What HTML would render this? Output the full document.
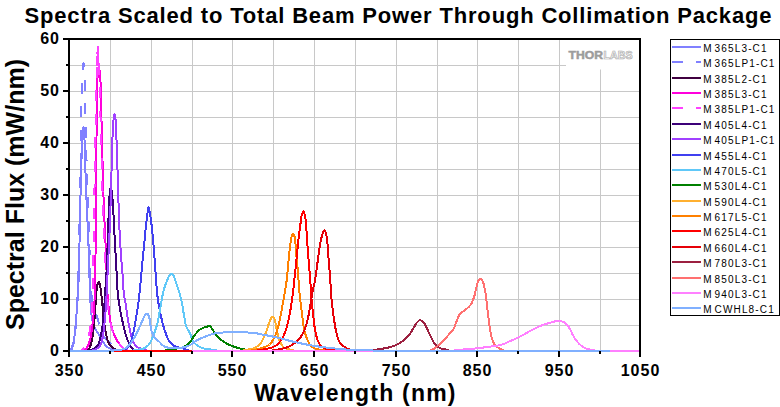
<!DOCTYPE html>
<html><head><meta charset="utf-8"><title>Spectra Scaled to Total Beam Power Through Collimation Package</title>
<style>html,body{margin:0;padding:0;background:#fff;}svg{display:block;}text{font-family:"Liberation Sans",sans-serif;font-weight:bold;fill:#000;}.lg text{font-weight:normal;font-size:10px;}</style></head><body>
<svg width="780" height="407" viewBox="0 0 780 407">
<rect x="0" y="0" width="780" height="407" fill="#fff"/>
<g stroke="#c8c8c8" stroke-width="1" shape-rendering="crispEdges">
<line x1="110.5" y1="39.0" x2="110.5" y2="351.0"/>
<line x1="151.5" y1="39.0" x2="151.5" y2="351.0"/>
<line x1="192.5" y1="39.0" x2="192.5" y2="351.0"/>
<line x1="232.5" y1="39.0" x2="232.5" y2="351.0"/>
<line x1="273.5" y1="39.0" x2="273.5" y2="351.0"/>
<line x1="314.5" y1="39.0" x2="314.5" y2="351.0"/>
<line x1="355.5" y1="39.0" x2="355.5" y2="351.0"/>
<line x1="396.5" y1="39.0" x2="396.5" y2="351.0"/>
<line x1="437.5" y1="39.0" x2="437.5" y2="351.0"/>
<line x1="477.5" y1="39.0" x2="477.5" y2="351.0"/>
<line x1="518.5" y1="39.0" x2="518.5" y2="351.0"/>
<line x1="559.5" y1="39.0" x2="559.5" y2="351.0"/>
<line x1="600.5" y1="39.0" x2="600.5" y2="351.0"/>
<line x1="69.0" y1="325.5" x2="640.0" y2="325.5"/>
<line x1="69.0" y1="299.5" x2="640.0" y2="299.5"/>
<line x1="69.0" y1="273.5" x2="640.0" y2="273.5"/>
<line x1="69.0" y1="247.5" x2="640.0" y2="247.5"/>
<line x1="69.0" y1="221.5" x2="640.0" y2="221.5"/>
<line x1="69.0" y1="195.5" x2="640.0" y2="195.5"/>
<line x1="69.0" y1="169.5" x2="640.0" y2="169.5"/>
<line x1="69.0" y1="143.5" x2="640.0" y2="143.5"/>
<line x1="69.0" y1="117.5" x2="640.0" y2="117.5"/>
<line x1="69.0" y1="91.5" x2="640.0" y2="91.5"/>
<line x1="69.0" y1="65.5" x2="640.0" y2="65.5"/>
</g>
<rect x="566" y="40" width="73" height="29.5" fill="#fff"/>
<g>
<text x="568.5" y="58.5" font-size="11.3" style="fill:#9c9c9c;stroke:#9c9c9c;stroke-width:0.5" textLength="34.5" lengthAdjust="spacingAndGlyphs">THOR</text>
<text x="603.5" y="58.5" font-size="11.3" style="fill:#fff;stroke:#aaa;stroke-width:0.7" textLength="29" lengthAdjust="spacingAndGlyphs">LABS</text>
</g>
<rect x="69.0" y="39.0" width="571.0" height="312.0" stroke="#000" stroke-width="2" fill="none" shape-rendering="crispEdges"/>
<clipPath id="pc"><rect x="70" y="40" width="569" height="313"/></clipPath>
<g clip-path="url(#pc)" fill="none" stroke-width="2" stroke-linejoin="round" shape-rendering="crispEdges">
<polyline stroke="#8080ff" points="69.0,351.0 69.5,350.9 70.0,350.5 70.5,350.0 71.0,349.3 71.5,348.4 72.0,347.1 72.5,345.6 73.0,343.8 73.5,341.8 74.0,339.5 74.5,336.5 75.0,331.9 75.5,326.3 76.0,320.2 76.5,314.0 77.0,308.1 77.5,301.7 78.0,293.8 78.5,282.3 79.0,265.0 79.5,243.6 80.0,219.1 80.5,195.8 81.0,176.4 81.5,160.0 82.0,146.2 82.5,136.7 83.0,129.4 83.5,127.2 84.0,131.7 84.5,140.0 85.0,155.5 85.5,173.0 86.0,187.1 86.5,200.0 87.0,211.3 87.5,221.6 88.0,232.5 88.5,245.8 89.0,262.5 89.5,277.7 90.0,290.0 90.5,302.8 91.0,309.8 91.5,314.6 92.0,318.0 92.5,320.6 93.0,322.9 93.5,324.7 94.0,326.3 94.5,327.5 95.0,328.6 95.5,329.5 96.0,330.3 96.5,331.0 97.0,331.7 97.5,332.4 98.0,333.2 98.5,334.0 99.0,334.8 99.5,335.7 100.0,336.6 100.5,337.6 101.0,338.5 101.5,339.4 102.0,340.3 102.5,341.1 103.0,342.0 103.5,342.7 104.0,343.4 104.5,344.0 105.0,344.6 105.5,345.2 106.0,345.7 106.5,346.2 107.0,346.7 107.5,347.1 108.0,347.4 108.5,347.7 109.0,348.0 109.5,348.2 110.0,348.5 110.5,348.7 111.0,348.9 111.5,349.1 112.0,349.2 112.5,349.4 113.0,349.6 113.5,349.7 114.0,349.8 114.5,350.0 115.0,350.1 115.5,350.2 116.0,350.4 116.5,350.5 117.0,350.6 117.5,350.7 118.0,350.8 118.5,350.9 119.0,350.9 119.5,351.0 120.0,351.0 120.5,351.0 121.0,351.0 121.5,351.0 122.0,351.0 122.5,351.0 123.0,351.0 123.5,351.0 124.0,351.0 124.5,351.0 125.0,351.0 125.5,351.0 126.0,351.0 126.5,351.0 127.0,351.0 127.5,351.0 128.0,351.0 128.5,351.0 129.0,351.0 129.5,351.0 130.0,351.0 130.5,351.0 131.0,351.0 131.5,351.0 132.0,351.0 132.5,351.0 133.0,351.0 133.5,351.0 134.0,351.0 134.5,351.0 135.0,351.0 135.5,351.0 136.0,351.0 136.5,351.0 137.0,351.0 137.5,351.0 138.0,351.0 138.5,351.0 139.0,351.0 139.5,351.0 140.0,351.0 140.5,351.0 141.0,351.0 141.5,351.0 142.0,351.0 142.5,351.0 143.0,351.0 143.5,351.0 144.0,351.0 144.5,351.0 145.0,351.0 145.5,351.0 146.0,351.0 146.5,351.0 147.0,351.0 147.5,351.0 148.0,351.0 148.5,351.0 149.0,351.0 149.5,351.0 150.0,351.0 150.5,351.0 151.0,351.0 151.5,351.0 152.0,351.0 152.5,351.0 153.0,351.0 153.5,351.0 154.0,351.0 154.5,351.0 155.0,351.0 155.5,351.0 156.0,351.0 156.5,351.0 157.0,351.0 157.5,351.0 158.0,351.0 158.5,351.0 159.0,351.0 159.5,351.0 160.0,351.0"/>
<polyline stroke="#8080ff" stroke-dasharray="11 12.5" stroke-dashoffset="22.5" points="69.0,351.0 69.5,350.9 70.0,350.7 70.5,350.4 71.0,350.0 71.5,349.4 72.0,348.5 72.5,347.2 73.0,345.6 73.5,343.7 74.0,341.5 74.5,339.0 75.0,335.0 75.5,329.0 76.0,321.7 76.5,314.0 77.0,306.3 77.5,297.0 78.0,283.9 78.5,263.4 79.0,241.0 79.5,217.0 80.0,192.0 80.5,165.7 81.0,133.4 81.5,105.4 82.0,87.1 82.5,75.3 83.0,67.8 83.5,63.2 84.0,66.7 84.5,76.6 85.0,94.3 85.5,119.5 86.0,140.9 86.5,160.0 87.0,176.8 87.5,192.1 88.0,207.0 88.5,221.7 89.0,236.0 89.5,250.0 90.0,265.2 90.5,280.0 91.0,290.0 91.5,295.3 92.0,299.4 92.5,302.5 93.0,305.0 93.5,307.1 94.0,308.8 94.5,310.4 95.0,311.8 95.5,313.0 96.0,314.3 96.5,315.6 97.0,317.0 97.5,318.5 98.0,320.2 98.5,321.9 99.0,323.6 99.5,325.3 100.0,327.0 100.5,328.6 101.0,330.2 101.5,331.6 102.0,332.9 102.5,334.0 103.0,335.0 103.5,335.8 104.0,336.6 104.5,337.2 105.0,337.9 105.5,338.5 106.0,339.0 106.5,339.6 107.0,340.1 107.5,340.5 108.0,341.0 108.5,341.5 109.0,341.9 109.5,342.3 110.0,342.7 110.5,343.1 111.0,343.5 111.5,343.9 112.0,344.2 112.5,344.6 113.0,344.9 113.5,345.2 114.0,345.5 114.5,345.8 115.0,346.0 115.5,346.3 116.0,346.5 116.5,346.8 117.0,347.0 117.5,347.2 118.0,347.4 118.5,347.6 119.0,347.8 119.5,348.0 120.0,348.2 120.5,348.4 121.0,348.6 121.5,348.8 122.0,349.0 122.5,349.2 123.0,349.4 123.5,349.6 124.0,349.9 124.5,350.1 125.0,350.3 125.5,350.5 126.0,350.6 126.5,350.8 127.0,350.9 127.5,351.0 128.0,351.0 128.5,351.0 129.0,351.0 129.5,351.0 130.0,351.0 130.5,351.0 131.0,351.0 131.5,351.0 132.0,351.0 132.5,351.0 133.0,351.0 133.5,351.0 134.0,351.0 134.5,351.0 135.0,351.0 135.5,351.0 136.0,351.0 136.5,351.0 137.0,351.0 137.5,351.0 138.0,351.0 138.5,351.0 139.0,351.0 139.5,351.0 140.0,351.0 140.5,351.0 141.0,351.0 141.5,351.0 142.0,351.0 142.5,351.0 143.0,351.0 143.5,351.0 144.0,351.0 144.5,351.0 145.0,351.0 145.5,351.0 146.0,351.0 146.5,351.0 147.0,351.0 147.5,351.0 148.0,351.0 148.5,351.0 149.0,351.0 149.5,351.0 150.0,351.0 150.5,351.0 151.0,351.0 151.5,351.0 152.0,351.0 152.5,351.0 153.0,351.0 153.5,351.0 154.0,351.0 154.5,351.0 155.0,351.0 155.5,351.0 156.0,351.0 156.5,351.0 157.0,351.0 157.5,351.0 158.0,351.0 158.5,351.0 159.0,351.0 159.5,351.0 160.0,351.0"/>
<polyline stroke="#400040" points="69.0,351.0 69.5,351.0 70.0,351.0 70.5,351.0 71.0,351.0 71.5,351.0 72.0,351.0 72.5,351.0 73.0,351.0 73.5,351.0 74.0,351.0 74.5,351.0 75.0,351.0 75.5,351.0 76.0,351.0 76.5,351.0 77.0,351.0 77.5,351.0 78.0,351.0 78.5,351.0 79.0,351.0 79.5,351.0 80.0,351.0 80.5,351.0 81.0,351.0 81.5,351.0 82.0,351.0 82.5,351.0 83.0,351.0 83.5,351.0 84.0,351.0 84.5,351.0 85.0,350.9 85.5,350.8 86.0,350.6 86.5,350.4 87.0,350.2 87.5,349.9 88.0,349.6 88.5,349.2 89.0,348.8 89.5,348.0 90.0,346.9 90.5,345.4 91.0,343.7 91.5,341.8 92.0,339.8 92.5,337.0 93.0,333.4 93.5,329.3 94.0,324.6 94.5,318.8 95.0,312.1 95.5,304.8 96.0,296.7 96.5,291.1 97.0,287.1 97.5,284.5 98.0,282.8 98.5,281.8 99.0,281.9 99.5,283.2 100.0,284.9 100.5,287.8 101.0,291.6 101.5,296.1 102.0,301.1 102.5,306.2 103.0,311.5 103.5,316.9 104.0,321.6 104.5,325.3 105.0,328.4 105.5,331.1 106.0,333.6 106.5,336.0 107.0,338.3 107.5,340.2 108.0,341.7 108.5,342.7 109.0,343.6 109.5,344.5 110.0,345.2 110.5,345.9 111.0,346.4 111.5,346.9 112.0,347.3 112.5,347.7 113.0,348.1 113.5,348.4 114.0,348.6 114.5,348.9 115.0,349.1 115.5,349.3 116.0,349.5 116.5,349.7 117.0,349.9 117.5,350.1 118.0,350.3 118.5,350.5 119.0,350.7 119.5,350.8 120.0,350.9 120.5,351.0 121.0,351.0 121.5,351.0 122.0,351.0 122.5,351.0 123.0,351.0 123.5,351.0 124.0,351.0 124.5,351.0 125.0,351.0 125.5,351.0 126.0,351.0 126.5,351.0 127.0,351.0 127.5,351.0 128.0,351.0 128.5,351.0 129.0,351.0 129.5,351.0 130.0,351.0 130.5,351.0 131.0,351.0 131.5,351.0 132.0,351.0 132.5,351.0 133.0,351.0 133.5,351.0 134.0,351.0 134.5,351.0 135.0,351.0 135.5,351.0 136.0,351.0 136.5,351.0 137.0,351.0 137.5,351.0 138.0,351.0 138.5,351.0 139.0,351.0 139.5,351.0 140.0,351.0 140.5,351.0 141.0,351.0 141.5,351.0 142.0,351.0 142.5,351.0 143.0,351.0 143.5,351.0 144.0,351.0 144.5,351.0 145.0,351.0 145.5,351.0 146.0,351.0 146.5,351.0 147.0,351.0 147.5,351.0 148.0,351.0 148.5,351.0 149.0,351.0 149.5,351.0 150.0,351.0 150.5,351.0 151.0,351.0 151.5,351.0 152.0,351.0 152.5,351.0 153.0,351.0 153.5,351.0 154.0,351.0 154.5,351.0 155.0,351.0 155.5,351.0 156.0,351.0 156.5,351.0 157.0,351.0 157.5,351.0 158.0,351.0 158.5,351.0 159.0,351.0 159.5,351.0 160.0,351.0 160.5,351.0 161.0,351.0 161.5,351.0 162.0,351.0 162.5,351.0 163.0,351.0 163.5,351.0 164.0,351.0 164.5,351.0 165.0,351.0 165.5,351.0 166.0,351.0 166.5,351.0 167.0,351.0 167.5,351.0 168.0,351.0 168.5,351.0 169.0,351.0 169.5,351.0 170.0,351.0"/>
<polyline stroke="#ff00dc" points="69.0,351.0 69.5,351.0 70.0,351.0 70.5,351.0 71.0,351.0 71.5,351.0 72.0,351.0 72.5,351.0 73.0,351.0 73.5,351.0 74.0,351.0 74.5,351.0 75.0,351.0 75.5,351.0 76.0,351.0 76.5,351.0 77.0,351.0 77.5,351.0 78.0,351.0 78.5,351.0 79.0,351.0 79.5,351.0 80.0,351.0 80.5,351.0 81.0,351.0 81.5,351.0 82.0,351.0 82.5,351.0 83.0,350.9 83.5,350.7 84.0,350.5 84.5,350.3 85.0,350.0 85.5,349.6 86.0,349.0 86.5,348.3 87.0,347.5 87.5,346.6 88.0,345.6 88.5,344.4 89.0,343.0 89.5,341.5 90.0,339.7 90.5,337.7 91.0,335.1 91.5,331.9 92.0,328.1 92.5,324.1 93.0,319.8 93.5,314.9 94.0,308.9 94.5,300.9 95.0,288.0 95.5,255.7 96.0,219.3 96.5,139.3 97.0,77.0 97.5,70.0 98.0,71.9 98.5,77.0 99.0,72.2 99.5,70.2 100.0,71.8 100.5,81.8 101.0,100.9 101.5,120.0 102.0,140.1 102.5,160.0 103.0,179.4 103.5,197.0 104.0,210.4 104.5,221.5 105.0,231.7 105.5,242.6 106.0,255.7 106.5,270.4 107.0,283.8 107.5,293.4 108.0,300.5 108.5,306.2 109.0,311.0 109.5,315.2 110.0,318.9 110.5,321.9 111.0,324.3 111.5,326.5 112.0,328.4 112.5,330.1 113.0,331.6 113.5,333.0 114.0,334.3 114.5,335.5 115.0,336.6 115.5,337.7 116.0,338.7 116.5,339.6 117.0,340.5 117.5,341.3 118.0,342.0 118.5,342.8 119.0,343.5 119.5,344.1 120.0,344.7 120.5,345.3 121.0,345.8 121.5,346.3 122.0,346.8 122.5,347.2 123.0,347.7 123.5,348.1 124.0,348.4 124.5,348.8 125.0,349.0 125.5,349.3 126.0,349.6 126.5,349.9 127.0,350.1 127.5,350.3 128.0,350.6 128.5,350.7 129.0,350.9 129.5,351.0 130.0,351.0 130.5,351.0 131.0,351.0 131.5,351.0 132.0,351.0 132.5,351.0 133.0,351.0 133.5,351.0 134.0,351.0 134.5,351.0 135.0,351.0 135.5,351.0 136.0,351.0 136.5,351.0 137.0,351.0 137.5,351.0 138.0,351.0 138.5,351.0 139.0,351.0 139.5,351.0 140.0,351.0 140.5,351.0 141.0,351.0 141.5,351.0 142.0,351.0 142.5,351.0 143.0,351.0 143.5,351.0 144.0,351.0 144.5,351.0 145.0,351.0 145.5,351.0 146.0,351.0 146.5,351.0 147.0,351.0 147.5,351.0 148.0,351.0 148.5,351.0 149.0,351.0 149.5,351.0 150.0,351.0 150.5,351.0 151.0,351.0 151.5,351.0 152.0,351.0 152.5,351.0 153.0,351.0 153.5,351.0 154.0,351.0 154.5,351.0 155.0,351.0 155.5,351.0 156.0,351.0 156.5,351.0 157.0,351.0 157.5,351.0 158.0,351.0 158.5,351.0 159.0,351.0 159.5,351.0 160.0,351.0 160.5,351.0 161.0,351.0 161.5,351.0 162.0,351.0 162.5,351.0 163.0,351.0 163.5,351.0 164.0,351.0 164.5,351.0 165.0,351.0 165.5,351.0 166.0,351.0 166.5,351.0 167.0,351.0 167.5,351.0 168.0,351.0 168.5,351.0 169.0,351.0 169.5,351.0 170.0,351.0 170.5,351.0 171.0,351.0 171.5,351.0 172.0,351.0 172.5,351.0 173.0,351.0 173.5,351.0 174.0,351.0 174.5,351.0 175.0,351.0 175.5,351.0 176.0,351.0 176.5,351.0 177.0,351.0 177.5,351.0 178.0,351.0 178.5,351.0 179.0,351.0 179.5,351.0 180.0,351.0"/>
<polyline stroke="#ff40ff" stroke-dasharray="11 12.5" stroke-dashoffset="18.0" points="69.0,351.0 69.5,351.0 70.0,351.0 70.5,351.0 71.0,351.0 71.5,351.0 72.0,351.0 72.5,351.0 73.0,351.0 73.5,351.0 74.0,351.0 74.5,351.0 75.0,351.0 75.5,351.0 76.0,351.0 76.5,351.0 77.0,351.0 77.5,351.0 78.0,351.0 78.5,351.0 79.0,351.0 79.5,351.0 80.0,351.0 80.5,350.9 81.0,350.7 81.5,350.5 82.0,350.1 82.5,349.6 83.0,349.1 83.5,348.6 84.0,348.0 84.5,347.3 85.0,346.4 85.5,345.4 86.0,344.2 86.5,342.8 87.0,341.3 87.5,339.7 88.0,338.0 88.5,336.2 89.0,334.1 89.5,331.8 90.0,329.0 90.5,325.8 91.0,322.0 91.5,317.2 92.0,310.2 92.5,300.0 93.0,275.3 93.5,244.5 94.0,216.8 94.5,188.8 95.0,160.0 95.5,125.8 96.0,101.8 96.5,82.1 97.0,65.0 97.5,51.9 98.0,47.4 98.5,57.1 99.0,70.5 99.5,86.8 100.0,101.7 100.5,116.7 101.0,135.5 101.5,156.2 102.0,174.3 102.5,190.9 103.0,205.6 103.5,218.6 104.0,230.7 104.5,242.6 105.0,255.2 105.5,268.5 106.0,280.7 106.5,290.0 107.0,296.4 107.5,301.5 108.0,306.0 108.5,310.2 109.0,314.2 109.5,317.8 110.0,320.9 110.5,323.3 111.0,325.5 111.5,327.4 112.0,329.2 112.5,330.8 113.0,332.2 113.5,333.6 114.0,334.8 114.5,335.9 115.0,336.9 115.5,337.9 116.0,338.8 116.5,339.7 117.0,340.5 117.5,341.3 118.0,342.0 118.5,342.8 119.0,343.4 119.5,344.1 120.0,344.7 120.5,345.3 121.0,345.8 121.5,346.3 122.0,346.8 122.5,347.2 123.0,347.7 123.5,348.1 124.0,348.4 124.5,348.8 125.0,349.0 125.5,349.3 126.0,349.6 126.5,349.9 127.0,350.1 127.5,350.3 128.0,350.6 128.5,350.7 129.0,350.9 129.5,351.0 130.0,351.0 130.5,351.0 131.0,351.0 131.5,351.0 132.0,351.0 132.5,351.0 133.0,351.0 133.5,351.0 134.0,351.0 134.5,351.0 135.0,351.0 135.5,351.0 136.0,351.0 136.5,351.0 137.0,351.0 137.5,351.0 138.0,351.0 138.5,351.0 139.0,351.0 139.5,351.0 140.0,351.0 140.5,351.0 141.0,351.0 141.5,351.0 142.0,351.0 142.5,351.0 143.0,351.0 143.5,351.0 144.0,351.0 144.5,351.0 145.0,351.0 145.5,351.0 146.0,351.0 146.5,351.0 147.0,351.0 147.5,351.0 148.0,351.0 148.5,351.0 149.0,351.0 149.5,351.0 150.0,351.0 150.5,351.0 151.0,351.0 151.5,351.0 152.0,351.0 152.5,351.0 153.0,351.0 153.5,351.0 154.0,351.0 154.5,351.0 155.0,351.0 155.5,351.0 156.0,351.0 156.5,351.0 157.0,351.0 157.5,351.0 158.0,351.0 158.5,351.0 159.0,351.0 159.5,351.0 160.0,351.0 160.5,351.0 161.0,351.0 161.5,351.0 162.0,351.0 162.5,351.0 163.0,351.0 163.5,351.0 164.0,351.0 164.5,351.0 165.0,351.0 165.5,351.0 166.0,351.0 166.5,351.0 167.0,351.0 167.5,351.0 168.0,351.0 168.5,351.0 169.0,351.0 169.5,351.0 170.0,351.0 170.5,351.0 171.0,351.0 171.5,351.0 172.0,351.0 172.5,351.0 173.0,351.0 173.5,351.0 174.0,351.0 174.5,351.0 175.0,351.0 175.5,351.0 176.0,351.0 176.5,351.0 177.0,351.0 177.5,351.0 178.0,351.0 178.5,351.0 179.0,351.0 179.5,351.0 180.0,351.0"/>
<polyline stroke="#3c0078" points="69.0,351.0 69.5,351.0 70.0,351.0 70.5,351.0 71.0,351.0 71.5,351.0 72.0,351.0 72.5,351.0 73.0,351.0 73.5,351.0 74.0,351.0 74.5,351.0 75.0,351.0 75.5,351.0 76.0,351.0 76.5,351.0 77.0,351.0 77.5,351.0 78.0,351.0 78.5,351.0 79.0,351.0 79.5,351.0 80.0,351.0 80.5,351.0 81.0,351.0 81.5,351.0 82.0,351.0 82.5,351.0 83.0,351.0 83.5,351.0 84.0,351.0 84.5,351.0 85.0,351.0 85.5,351.0 86.0,351.0 86.5,351.0 87.0,351.0 87.5,351.0 88.0,351.0 88.5,351.0 89.0,350.9 89.5,350.8 90.0,350.6 90.5,350.4 91.0,350.1 91.5,349.9 92.0,349.7 92.5,349.4 93.0,349.2 93.5,348.9 94.0,348.6 94.5,348.3 95.0,348.0 95.5,347.6 96.0,347.2 96.5,346.7 97.0,346.2 97.5,345.6 98.0,344.9 98.5,343.8 99.0,342.5 99.5,340.9 100.0,339.1 100.5,337.2 101.0,335.1 101.5,332.7 102.0,329.7 102.5,326.2 103.0,322.1 103.5,316.7 104.0,310.2 104.5,303.1 105.0,294.9 105.5,287.0 106.0,279.8 106.5,271.9 107.0,261.3 107.5,248.2 108.0,234.1 108.5,217.9 109.0,205.7 109.5,196.5 110.0,191.4 110.5,188.3 111.0,187.9 111.5,190.2 112.0,193.5 112.5,199.0 113.0,206.0 113.5,215.0 114.0,225.2 114.5,235.0 115.0,243.9 115.5,252.6 116.0,261.4 116.5,271.0 117.0,281.7 117.5,290.0 118.0,295.2 118.5,299.4 119.0,303.0 119.5,306.2 120.0,309.2 120.5,312.0 121.0,314.6 121.5,317.0 122.0,319.3 122.5,321.5 123.0,323.7 123.5,325.9 124.0,328.0 124.5,330.1 125.0,332.0 125.5,333.8 126.0,335.4 126.5,336.9 127.0,338.3 127.5,339.7 128.0,341.0 128.5,342.2 129.0,343.3 129.5,344.2 130.0,345.1 130.5,345.9 131.0,346.6 131.5,347.3 132.0,347.9 132.5,348.5 133.0,348.9 133.5,349.2 134.0,349.5 134.5,349.8 135.0,350.1 135.5,350.3 136.0,350.6 136.5,350.7 137.0,350.9 137.5,351.0 138.0,351.0 138.5,351.0 139.0,351.0 139.5,351.0 140.0,351.0 140.5,351.0 141.0,351.0 141.5,351.0 142.0,351.0 142.5,351.0 143.0,351.0 143.5,351.0 144.0,351.0 144.5,351.0 145.0,351.0 145.5,351.0 146.0,351.0 146.5,351.0 147.0,351.0 147.5,351.0 148.0,351.0 148.5,351.0 149.0,351.0 149.5,351.0 150.0,351.0 150.5,351.0 151.0,351.0 151.5,351.0 152.0,351.0 152.5,351.0 153.0,351.0 153.5,351.0 154.0,351.0 154.5,351.0 155.0,351.0 155.5,351.0 156.0,351.0 156.5,351.0 157.0,351.0 157.5,351.0 158.0,351.0 158.5,351.0 159.0,351.0 159.5,351.0 160.0,351.0 160.5,351.0 161.0,351.0 161.5,351.0 162.0,351.0 162.5,351.0 163.0,351.0 163.5,351.0 164.0,351.0 164.5,351.0 165.0,351.0 165.5,351.0 166.0,351.0 166.5,351.0 167.0,351.0 167.5,351.0 168.0,351.0 168.5,351.0 169.0,351.0 169.5,351.0 170.0,351.0 170.5,351.0 171.0,351.0 171.5,351.0 172.0,351.0 172.5,351.0 173.0,351.0 173.5,351.0 174.0,351.0 174.5,351.0 175.0,351.0 175.5,351.0 176.0,351.0 176.5,351.0 177.0,351.0 177.5,351.0 178.0,351.0 178.5,351.0 179.0,351.0 179.5,351.0 180.0,351.0 180.5,351.0 181.0,351.0 181.5,351.0 182.0,351.0 182.5,351.0 183.0,351.0 183.5,351.0 184.0,351.0 184.5,351.0 185.0,351.0 185.5,351.0 186.0,351.0 186.5,351.0 187.0,351.0 187.5,351.0 188.0,351.0 188.5,351.0 189.0,351.0 189.5,351.0 190.0,351.0"/>
<polyline stroke="#a040ff" points="69.0,351.0 69.5,351.0 70.0,351.0 70.5,351.0 71.0,351.0 71.5,351.0 72.0,351.0 72.5,351.0 73.0,351.0 73.5,351.0 74.0,351.0 74.5,351.0 75.0,351.0 75.5,351.0 76.0,351.0 76.5,351.0 77.0,351.0 77.5,351.0 78.0,351.0 78.5,351.0 79.0,351.0 79.5,351.0 80.0,351.0 80.5,351.0 81.0,351.0 81.5,351.0 82.0,351.0 82.5,351.0 83.0,351.0 83.5,351.0 84.0,351.0 84.5,351.0 85.0,351.0 85.5,351.0 86.0,351.0 86.5,351.0 87.0,351.0 87.5,351.0 88.0,351.0 88.5,351.0 89.0,351.0 89.5,351.0 90.0,351.0 90.5,351.0 91.0,350.9 91.5,350.8 92.0,350.6 92.5,350.4 93.0,350.2 93.5,350.0 94.0,349.8 94.5,349.6 95.0,349.4 95.5,349.1 96.0,348.9 96.5,348.7 97.0,348.4 97.5,348.1 98.0,347.7 98.5,347.3 99.0,346.9 99.5,346.4 100.0,345.6 100.5,344.6 101.0,343.5 101.5,342.0 102.0,340.4 102.5,338.6 103.0,336.0 103.5,332.4 104.0,328.1 104.5,323.4 105.0,318.2 105.5,311.9 106.0,304.7 106.5,295.8 107.0,286.1 107.5,275.6 108.0,265.0 108.5,254.7 109.0,244.3 109.5,233.0 110.0,220.2 110.5,206.1 111.0,190.0 111.5,172.0 112.0,154.2 112.5,137.4 113.0,126.8 113.5,120.0 114.0,116.4 114.5,114.5 115.0,115.5 115.5,119.1 116.0,127.4 116.5,140.0 117.0,154.0 117.5,169.7 118.0,187.2 118.5,202.9 119.0,216.8 119.5,229.5 120.0,240.0 120.5,248.3 121.0,255.4 121.5,261.7 122.0,267.8 122.5,274.2 123.0,281.7 123.5,290.0 124.0,294.4 124.5,297.8 125.0,300.6 125.5,303.2 126.0,306.2 126.5,309.6 127.0,313.2 127.5,316.7 128.0,320.0 128.5,323.0 129.0,325.6 129.5,328.2 130.0,330.5 130.5,332.6 131.0,334.5 131.5,336.4 132.0,338.1 132.5,339.7 133.0,341.2 133.5,342.4 134.0,343.3 134.5,344.1 135.0,344.7 135.5,345.3 136.0,345.8 136.5,346.3 137.0,346.7 137.5,347.0 138.0,347.4 138.5,347.6 139.0,347.9 139.5,348.1 140.0,348.3 140.5,348.5 141.0,348.6 141.5,348.8 142.0,348.9 142.5,349.1 143.0,349.2 143.5,349.3 144.0,349.5 144.5,349.6 145.0,349.8 145.5,350.0 146.0,350.2 146.5,350.3 147.0,350.5 147.5,350.6 148.0,350.7 148.5,350.8 149.0,350.9 149.5,351.0 150.0,351.0 150.5,351.0 151.0,351.0 151.5,351.0 152.0,351.0 152.5,351.0 153.0,351.0 153.5,351.0 154.0,351.0 154.5,351.0 155.0,351.0 155.5,351.0 156.0,351.0 156.5,351.0 157.0,351.0 157.5,351.0 158.0,351.0 158.5,351.0 159.0,351.0 159.5,351.0 160.0,351.0 160.5,351.0 161.0,351.0 161.5,351.0 162.0,351.0 162.5,351.0 163.0,351.0 163.5,351.0 164.0,351.0 164.5,351.0 165.0,351.0 165.5,351.0 166.0,351.0 166.5,351.0 167.0,351.0 167.5,351.0 168.0,351.0 168.5,351.0 169.0,351.0 169.5,351.0 170.0,351.0 170.5,351.0 171.0,351.0 171.5,351.0 172.0,351.0 172.5,351.0 173.0,351.0 173.5,351.0 174.0,351.0 174.5,351.0 175.0,351.0 175.5,351.0 176.0,351.0 176.5,351.0 177.0,351.0 177.5,351.0 178.0,351.0 178.5,351.0 179.0,351.0 179.5,351.0 180.0,351.0 180.5,351.0 181.0,351.0 181.5,351.0 182.0,351.0 182.5,351.0 183.0,351.0 183.5,351.0 184.0,351.0 184.5,351.0 185.0,351.0 185.5,351.0 186.0,351.0 186.5,351.0 187.0,351.0 187.5,351.0 188.0,351.0 188.5,351.0 189.0,351.0 189.5,351.0 190.0,351.0 190.5,351.0 191.0,351.0 191.5,351.0 192.0,351.0 192.5,351.0 193.0,351.0 193.5,351.0 194.0,351.0 194.5,351.0 195.0,351.0 195.5,351.0 196.0,351.0 196.5,351.0 197.0,351.0 197.5,351.0 198.0,351.0 198.5,351.0 199.0,351.0 199.5,351.0 200.0,351.0"/>
<polyline stroke="#4040f0" points="69.0,351.0 69.5,351.0 70.0,351.0 70.5,351.0 71.0,351.0 71.5,351.0 72.0,351.0 72.5,351.0 73.0,351.0 73.5,351.0 74.0,351.0 74.5,351.0 75.0,351.0 75.5,351.0 76.0,351.0 76.5,351.0 77.0,351.0 77.5,351.0 78.0,351.0 78.5,351.0 79.0,351.0 79.5,351.0 80.0,351.0 80.5,351.0 81.0,351.0 81.5,351.0 82.0,351.0 82.5,351.0 83.0,351.0 83.5,351.0 84.0,351.0 84.5,351.0 85.0,351.0 85.5,351.0 86.0,351.0 86.5,351.0 87.0,351.0 87.5,351.0 88.0,351.0 88.5,351.0 89.0,351.0 89.5,351.0 90.0,351.0 90.5,351.0 91.0,351.0 91.5,351.0 92.0,351.0 92.5,351.0 93.0,351.0 93.5,351.0 94.0,351.0 94.5,351.0 95.0,351.0 95.5,351.0 96.0,351.0 96.5,351.0 97.0,351.0 97.5,351.0 98.0,351.0 98.5,351.0 99.0,351.0 99.5,351.0 100.0,351.0 100.5,351.0 101.0,351.0 101.5,351.0 102.0,351.0 102.5,351.0 103.0,351.0 103.5,351.0 104.0,351.0 104.5,351.0 105.0,351.0 105.5,351.0 106.0,351.0 106.5,351.0 107.0,351.0 107.5,351.0 108.0,351.0 108.5,351.0 109.0,351.0 109.5,351.0 110.0,351.0 110.5,351.0 111.0,351.0 111.5,351.0 112.0,351.0 112.5,351.0 113.0,351.0 113.5,351.0 114.0,351.0 114.5,351.0 115.0,351.0 115.5,351.0 116.0,351.0 116.5,351.0 117.0,351.0 117.5,351.0 118.0,351.0 118.5,351.0 119.0,351.0 119.5,350.9 120.0,350.9 120.5,350.8 121.0,350.8 121.5,350.7 122.0,350.6 122.5,350.5 123.0,350.4 123.5,350.2 124.0,350.1 124.5,350.0 125.0,349.8 125.5,349.6 126.0,349.3 126.5,348.8 127.0,348.3 127.5,347.7 128.0,347.1 128.5,346.4 129.0,345.6 129.5,344.8 130.0,343.7 130.5,342.6 131.0,341.2 131.5,339.7 132.0,338.1 132.5,336.4 133.0,334.6 133.5,332.5 134.0,329.9 134.5,327.1 135.0,324.1 135.5,321.1 136.0,318.1 136.5,315.2 137.0,312.1 137.5,309.0 138.0,305.6 138.5,302.0 139.0,298.1 139.5,293.5 140.0,288.5 140.5,283.3 141.0,277.9 141.5,272.1 142.0,266.2 142.5,260.8 143.0,255.9 143.5,251.1 144.0,246.2 144.5,241.0 145.0,235.6 145.5,230.5 146.0,225.7 146.5,221.2 147.0,217.0 147.5,213.3 148.0,209.4 148.5,207.0 149.0,207.8 149.5,210.7 150.0,214.0 150.5,217.1 151.0,220.6 151.5,224.4 152.0,228.6 152.5,233.5 153.0,239.2 153.5,245.2 154.0,251.3 154.5,257.6 155.0,264.3 155.5,271.8 156.0,279.0 156.5,285.7 157.0,291.8 157.5,296.5 158.0,300.2 158.5,303.5 159.0,306.4 159.5,309.0 160.0,311.5 160.5,313.9 161.0,316.2 161.5,318.5 162.0,320.7 162.5,322.7 163.0,324.7 163.5,326.5 164.0,328.2 164.5,329.7 165.0,331.2 165.5,332.6 166.0,334.0 166.5,335.4 167.0,336.6 167.5,337.8 168.0,338.8 168.5,339.8 169.0,340.6 169.5,341.3 170.0,342.0 170.5,342.6 171.0,343.2 171.5,343.7 172.0,344.2 172.5,344.7 173.0,345.1 173.5,345.5 174.0,345.7 174.5,346.0 175.0,346.2 175.5,346.4 176.0,346.6 176.5,346.8 177.0,347.0 177.5,347.1 178.0,347.2 178.5,347.4 179.0,347.5 179.5,347.7 180.0,347.8 180.5,347.9 181.0,348.1 181.5,348.2 182.0,348.3 182.5,348.4 183.0,348.6 183.5,348.7 184.0,348.8 184.5,348.9 185.0,349.1 185.5,349.3 186.0,349.4 186.5,349.6 187.0,349.8 187.5,350.0 188.0,350.2 188.5,350.3 189.0,350.5 189.5,350.6 190.0,350.8 190.5,350.9 191.0,350.9 191.5,351.0 192.0,351.0 192.5,351.0 193.0,351.0 193.5,351.0 194.0,351.0 194.5,351.0 195.0,351.0 195.5,351.0 196.0,351.0 196.5,351.0 197.0,351.0 197.5,351.0 198.0,351.0 198.5,351.0 199.0,351.0 199.5,351.0 200.0,351.0 200.5,351.0 201.0,351.0 201.5,351.0 202.0,351.0 202.5,351.0 203.0,351.0 203.5,351.0 204.0,351.0 204.5,351.0 205.0,351.0 205.5,351.0 206.0,351.0 206.5,351.0 207.0,351.0 207.5,351.0 208.0,351.0 208.5,351.0 209.0,351.0 209.5,351.0 210.0,351.0 210.5,351.0 211.0,351.0 211.5,351.0 212.0,351.0 212.5,351.0 213.0,351.0 213.5,351.0 214.0,351.0 214.5,351.0 215.0,351.0 215.5,351.0 216.0,351.0 216.5,351.0 217.0,351.0 217.5,351.0 218.0,351.0 218.5,351.0 219.0,351.0 219.5,351.0 220.0,351.0 220.5,351.0 221.0,351.0 221.5,351.0 222.0,351.0 222.5,351.0 223.0,351.0 223.5,351.0 224.0,351.0 224.5,351.0 225.0,351.0 225.5,351.0 226.0,351.0 226.5,351.0 227.0,351.0 227.5,351.0 228.0,351.0 228.5,351.0 229.0,351.0 229.5,351.0 230.0,351.0"/>
<polyline stroke="#60c8f8" points="69.0,351.0 69.5,351.0 70.0,351.0 70.5,351.0 71.0,351.0 71.5,351.0 72.0,351.0 72.5,351.0 73.0,351.0 73.5,351.0 74.0,351.0 74.5,351.0 75.0,351.0 75.5,351.0 76.0,351.0 76.5,351.0 77.0,351.0 77.5,351.0 78.0,351.0 78.5,351.0 79.0,351.0 79.5,351.0 80.0,351.0 80.5,351.0 81.0,351.0 81.5,351.0 82.0,351.0 82.5,351.0 83.0,351.0 83.5,351.0 84.0,351.0 84.5,351.0 85.0,351.0 85.5,351.0 86.0,351.0 86.5,351.0 87.0,351.0 87.5,351.0 88.0,351.0 88.5,351.0 89.0,351.0 89.5,351.0 90.0,351.0 90.5,351.0 91.0,351.0 91.5,351.0 92.0,351.0 92.5,351.0 93.0,351.0 93.5,351.0 94.0,351.0 94.5,351.0 95.0,351.0 95.5,351.0 96.0,351.0 96.5,351.0 97.0,351.0 97.5,351.0 98.0,351.0 98.5,351.0 99.0,351.0 99.5,351.0 100.0,351.0 100.5,351.0 101.0,351.0 101.5,351.0 102.0,351.0 102.5,351.0 103.0,351.0 103.5,351.0 104.0,351.0 104.5,351.0 105.0,351.0 105.5,351.0 106.0,351.0 106.5,351.0 107.0,351.0 107.5,351.0 108.0,351.0 108.5,351.0 109.0,351.0 109.5,351.0 110.0,351.0 110.5,351.0 111.0,351.0 111.5,351.0 112.0,351.0 112.5,351.0 113.0,351.0 113.5,351.0 114.0,351.0 114.5,351.0 115.0,351.0 115.5,351.0 116.0,351.0 116.5,351.0 117.0,351.0 117.5,351.0 118.0,351.0 118.5,351.0 119.0,351.0 119.5,351.0 120.0,351.0 120.5,351.0 121.0,351.0 121.5,351.0 122.0,351.0 122.5,351.0 123.0,351.0 123.5,351.0 124.0,351.0 124.5,351.0 125.0,351.0 125.5,351.0 126.0,351.0 126.5,351.0 127.0,351.0 127.5,351.0 128.0,351.0 128.5,351.0 129.0,351.0 129.5,350.9 130.0,350.9 130.5,350.8 131.0,350.8 131.5,350.7 132.0,350.6 132.5,350.6 133.0,350.5 133.5,350.4 134.0,350.3 134.5,350.2 135.0,350.1 135.5,350.0 136.0,349.9 136.5,349.8 137.0,349.8 137.5,349.7 138.0,349.6 138.5,349.6 139.0,349.5 139.5,349.4 140.0,349.3 140.5,349.3 141.0,349.2 141.5,349.1 142.0,349.0 142.5,348.9 143.0,348.7 143.5,348.5 144.0,348.3 144.5,348.1 145.0,347.8 145.5,347.5 146.0,347.2 146.5,346.8 147.0,346.4 147.5,345.9 148.0,345.5 148.5,345.0 149.0,344.4 149.5,343.7 150.0,342.9 150.5,342.0 151.0,340.9 151.5,339.8 152.0,338.7 152.5,337.5 153.0,336.2 153.5,335.0 154.0,333.8 154.5,332.5 155.0,331.1 155.5,329.7 156.0,328.1 156.5,326.5 157.0,324.7 157.5,322.8 158.0,320.6 158.5,318.1 159.0,315.3 159.5,312.5 160.0,309.7 160.5,307.0 161.0,304.1 161.5,301.2 162.0,298.3 162.5,295.5 163.0,293.1 163.5,291.0 164.0,289.2 164.5,287.6 165.0,286.1 165.5,284.6 166.0,283.3 166.5,282.0 167.0,280.7 167.5,279.5 168.0,278.2 168.5,277.0 169.0,276.0 169.5,275.3 170.0,274.8 170.5,274.3 171.0,274.0 171.5,273.7 172.0,273.7 172.5,274.1 173.0,274.6 173.5,275.3 174.0,276.4 174.5,278.0 175.0,279.7 175.5,281.2 176.0,282.6 176.5,284.0 177.0,285.4 177.5,286.8 178.0,288.3 178.5,289.8 179.0,291.5 179.5,293.2 180.0,295.0 180.5,297.0 181.0,299.0 181.5,301.2 182.0,303.6 182.5,306.3 183.0,309.3 183.5,312.5 184.0,315.4 184.5,318.3 185.0,321.2 185.5,323.7 186.0,325.5 186.5,326.8 187.0,327.9 187.5,328.9 188.0,329.7 188.5,330.5 189.0,331.3 189.5,332.3 190.0,333.3 190.5,334.6 191.0,336.1 191.5,337.6 192.0,339.0 192.5,340.2 193.0,341.0 193.5,341.7 194.0,342.4 194.5,343.0 195.0,343.5 195.5,344.0 196.0,344.4 196.5,344.8 197.0,345.2 197.5,345.5 198.0,345.9 198.5,346.2 199.0,346.4 199.5,346.7 200.0,347.0 200.5,347.2 201.0,347.4 201.5,347.7 202.0,347.9 202.5,348.0 203.0,348.2 203.5,348.3 204.0,348.4 204.5,348.6 205.0,348.7 205.5,348.7 206.0,348.8 206.5,348.9 207.0,349.0 207.5,349.1 208.0,349.1 208.5,349.2 209.0,349.3 209.5,349.3 210.0,349.4 210.5,349.4 211.0,349.5 211.5,349.6 212.0,349.7 212.5,349.7 213.0,349.8 213.5,349.9 214.0,350.0 214.5,350.1 215.0,350.2 215.5,350.3 216.0,350.4 216.5,350.4 217.0,350.5 217.5,350.6 218.0,350.7 218.5,350.7 219.0,350.8 219.5,350.9 220.0,350.9 220.5,350.9 221.0,351.0 221.5,351.0 222.0,351.0 222.5,351.0 223.0,351.0 223.5,351.0 224.0,351.0 224.5,351.0 225.0,351.0 225.5,351.0 226.0,351.0 226.5,351.0 227.0,351.0 227.5,351.0 228.0,351.0 228.5,351.0 229.0,351.0 229.5,351.0 230.0,351.0 230.5,351.0 231.0,351.0 231.5,351.0 232.0,351.0 232.5,351.0 233.0,351.0 233.5,351.0 234.0,351.0 234.5,351.0 235.0,351.0 235.5,351.0 236.0,351.0 236.5,351.0 237.0,351.0 237.5,351.0 238.0,351.0 238.5,351.0 239.0,351.0 239.5,351.0 240.0,351.0 240.5,351.0 241.0,351.0 241.5,351.0 242.0,351.0 242.5,351.0 243.0,351.0 243.5,351.0 244.0,351.0 244.5,351.0 245.0,351.0 245.5,351.0 246.0,351.0 246.5,351.0 247.0,351.0 247.5,351.0 248.0,351.0 248.5,351.0 249.0,351.0 249.5,351.0 250.0,351.0 250.5,351.0 251.0,351.0 251.5,351.0 252.0,351.0 252.5,351.0 253.0,351.0 253.5,351.0 254.0,351.0 254.5,351.0 255.0,351.0 255.5,351.0 256.0,351.0 256.5,351.0 257.0,351.0 257.5,351.0 258.0,351.0 258.5,351.0 259.0,351.0 259.5,351.0 260.0,351.0"/>
<polyline stroke="#008000" points="69.0,351.0 69.5,351.0 70.0,351.0 70.5,351.0 71.0,351.0 71.5,351.0 72.0,351.0 72.5,351.0 73.0,351.0 73.5,351.0 74.0,351.0 74.5,351.0 75.0,351.0 75.5,351.0 76.0,351.0 76.5,351.0 77.0,351.0 77.5,351.0 78.0,351.0 78.5,351.0 79.0,351.0 79.5,351.0 80.0,351.0 80.5,351.0 81.0,351.0 81.5,351.0 82.0,351.0 82.5,351.0 83.0,351.0 83.5,351.0 84.0,351.0 84.5,351.0 85.0,351.0 85.5,351.0 86.0,351.0 86.5,351.0 87.0,351.0 87.5,351.0 88.0,351.0 88.5,351.0 89.0,351.0 89.5,351.0 90.0,351.0 90.5,351.0 91.0,351.0 91.5,351.0 92.0,351.0 92.5,351.0 93.0,351.0 93.5,351.0 94.0,351.0 94.5,351.0 95.0,351.0 95.5,351.0 96.0,351.0 96.5,351.0 97.0,351.0 97.5,351.0 98.0,351.0 98.5,351.0 99.0,351.0 99.5,351.0 100.0,351.0 100.5,351.0 101.0,351.0 101.5,351.0 102.0,351.0 102.5,351.0 103.0,351.0 103.5,351.0 104.0,351.0 104.5,351.0 105.0,351.0 105.5,351.0 106.0,351.0 106.5,351.0 107.0,351.0 107.5,351.0 108.0,351.0 108.5,351.0 109.0,351.0 109.5,351.0 110.0,351.0 110.5,351.0 111.0,351.0 111.5,351.0 112.0,351.0 112.5,351.0 113.0,351.0 113.5,351.0 114.0,351.0 114.5,351.0 115.0,351.0 115.5,351.0 116.0,351.0 116.5,351.0 117.0,351.0 117.5,351.0 118.0,351.0 118.5,351.0 119.0,351.0 119.5,351.0 120.0,351.0 120.5,351.0 121.0,351.0 121.5,351.0 122.0,351.0 122.5,351.0 123.0,351.0 123.5,351.0 124.0,351.0 124.5,351.0 125.0,351.0 125.5,351.0 126.0,351.0 126.5,351.0 127.0,351.0 127.5,351.0 128.0,351.0 128.5,351.0 129.0,351.0 129.5,351.0 130.0,351.0 130.5,351.0 131.0,351.0 131.5,351.0 132.0,351.0 132.5,351.0 133.0,351.0 133.5,351.0 134.0,351.0 134.5,351.0 135.0,351.0 135.5,351.0 136.0,351.0 136.5,351.0 137.0,351.0 137.5,351.0 138.0,351.0 138.5,351.0 139.0,351.0 139.5,351.0 140.0,351.0 140.5,351.0 141.0,351.0 141.5,351.0 142.0,351.0 142.5,351.0 143.0,351.0 143.5,351.0 144.0,351.0 144.5,351.0 145.0,351.0 145.5,351.0 146.0,351.0 146.5,351.0 147.0,351.0 147.5,351.0 148.0,351.0 148.5,351.0 149.0,351.0 149.5,351.0 150.0,351.0 150.5,351.0 151.0,351.0 151.5,351.0 152.0,351.0 152.5,351.0 153.0,351.0 153.5,351.0 154.0,351.0 154.5,351.0 155.0,351.0 155.5,351.0 156.0,351.0 156.5,351.0 157.0,351.0 157.5,351.0 158.0,351.0 158.5,351.0 159.0,351.0 159.5,351.0 160.0,351.0 160.5,351.0 161.0,351.0 161.5,351.0 162.0,350.9 162.5,350.9 163.0,350.8 163.5,350.8 164.0,350.7 164.5,350.7 165.0,350.6 165.5,350.5 166.0,350.4 166.5,350.3 167.0,350.3 167.5,350.2 168.0,350.1 168.5,350.0 169.0,349.9 169.5,349.8 170.0,349.7 170.5,349.6 171.0,349.5 171.5,349.4 172.0,349.3 172.5,349.2 173.0,349.2 173.5,349.1 174.0,349.0 174.5,348.9 175.0,348.9 175.5,348.8 176.0,348.7 176.5,348.6 177.0,348.5 177.5,348.4 178.0,348.4 178.5,348.3 179.0,348.2 179.5,348.1 180.0,347.9 180.5,347.8 181.0,347.7 181.5,347.6 182.0,347.4 182.5,347.3 183.0,347.1 183.5,347.0 184.0,346.8 184.5,346.6 185.0,346.3 185.5,346.0 186.0,345.7 186.5,345.3 187.0,344.9 187.5,344.4 188.0,343.9 188.5,343.4 189.0,342.9 189.5,342.4 190.0,341.9 190.5,341.3 191.0,340.6 191.5,339.9 192.0,339.2 192.5,338.4 193.0,337.6 193.5,336.8 194.0,336.1 194.5,335.4 195.0,334.8 195.5,334.1 196.0,333.5 196.5,332.9 197.0,332.4 197.5,331.8 198.0,331.3 198.5,330.8 199.0,330.3 199.5,329.9 200.0,329.6 200.5,329.3 201.0,329.0 201.5,328.7 202.0,328.5 202.5,328.2 203.0,328.0 203.5,327.8 204.0,327.6 204.5,327.4 205.0,327.2 205.5,327.1 206.0,326.9 206.5,326.8 207.0,326.6 207.5,326.5 208.0,326.3 208.5,326.1 209.0,325.9 209.5,325.8 210.0,325.9 210.5,326.5 211.0,327.3 211.5,328.1 212.0,328.8 212.5,329.5 213.0,330.3 213.5,331.1 214.0,331.8 214.5,332.6 215.0,333.3 215.5,334.0 216.0,334.6 216.5,335.2 217.0,335.7 217.5,336.3 218.0,336.8 218.5,337.4 219.0,337.9 219.5,338.3 220.0,338.8 220.5,339.2 221.0,339.7 221.5,340.1 222.0,340.5 222.5,340.9 223.0,341.2 223.5,341.6 224.0,341.9 224.5,342.3 225.0,342.6 225.5,342.9 226.0,343.2 226.5,343.5 227.0,343.7 227.5,344.0 228.0,344.3 228.5,344.5 229.0,344.7 229.5,344.9 230.0,345.2 230.5,345.4 231.0,345.6 231.5,345.8 232.0,346.0 232.5,346.1 233.0,346.3 233.5,346.5 234.0,346.7 234.5,346.9 235.0,347.0 235.5,347.2 236.0,347.4 236.5,347.5 237.0,347.7 237.5,347.8 238.0,348.0 238.5,348.1 239.0,348.3 239.5,348.4 240.0,348.5 240.5,348.7 241.0,348.8 241.5,348.9 242.0,349.0 242.5,349.1 243.0,349.2 243.5,349.3 244.0,349.4 244.5,349.5 245.0,349.6 245.5,349.6 246.0,349.7 246.5,349.8 247.0,349.9 247.5,350.0 248.0,350.1 248.5,350.2 249.0,350.3 249.5,350.4 250.0,350.5 250.5,350.6 251.0,350.7 251.5,350.8 252.0,350.9 252.5,350.9 253.0,351.0 253.5,351.0 254.0,351.0 254.5,351.0 255.0,351.0 255.5,351.0 256.0,351.0 256.5,351.0 257.0,351.0 257.5,351.0 258.0,351.0 258.5,351.0 259.0,351.0 259.5,351.0 260.0,351.0 260.5,351.0 261.0,351.0 261.5,351.0 262.0,351.0 262.5,351.0 263.0,351.0 263.5,351.0 264.0,351.0 264.5,351.0 265.0,351.0 265.5,351.0 266.0,351.0 266.5,351.0 267.0,351.0 267.5,351.0 268.0,351.0 268.5,351.0 269.0,351.0 269.5,351.0 270.0,351.0 270.5,351.0 271.0,351.0 271.5,351.0 272.0,351.0 272.5,351.0 273.0,351.0 273.5,351.0 274.0,351.0 274.5,351.0 275.0,351.0 275.5,351.0 276.0,351.0 276.5,351.0 277.0,351.0 277.5,351.0 278.0,351.0 278.5,351.0 279.0,351.0 279.5,351.0 280.0,351.0 280.5,351.0 281.0,351.0 281.5,351.0 282.0,351.0 282.5,351.0 283.0,351.0 283.5,351.0 284.0,351.0 284.5,351.0 285.0,351.0 285.5,351.0 286.0,351.0 286.5,351.0 287.0,351.0 287.5,351.0 288.0,351.0 288.5,351.0 289.0,351.0 289.5,351.0 290.0,351.0 290.5,351.0 291.0,351.0 291.5,351.0 292.0,351.0 292.5,351.0 293.0,351.0 293.5,351.0 294.0,351.0 294.5,351.0 295.0,351.0 295.5,351.0 296.0,351.0 296.5,351.0 297.0,351.0 297.5,351.0 298.0,351.0 298.5,351.0 299.0,351.0 299.5,351.0 300.0,351.0"/>
<polyline stroke="#ffb030" points="160.0,351.0 160.5,351.0 161.0,351.0 161.5,351.0 162.0,351.0 162.5,351.0 163.0,351.0 163.5,351.0 164.0,351.0 164.5,351.0 165.0,351.0 165.5,351.0 166.0,351.0 166.5,351.0 167.0,351.0 167.5,351.0 168.0,351.0 168.5,351.0 169.0,351.0 169.5,351.0 170.0,351.0 170.5,351.0 171.0,351.0 171.5,351.0 172.0,351.0 172.5,351.0 173.0,351.0 173.5,351.0 174.0,351.0 174.5,351.0 175.0,351.0 175.5,351.0 176.0,351.0 176.5,351.0 177.0,351.0 177.5,351.0 178.0,351.0 178.5,351.0 179.0,351.0 179.5,351.0 180.0,351.0 180.5,351.0 181.0,351.0 181.5,351.0 182.0,351.0 182.5,351.0 183.0,351.0 183.5,351.0 184.0,351.0 184.5,351.0 185.0,351.0 185.5,351.0 186.0,351.0 186.5,351.0 187.0,351.0 187.5,351.0 188.0,351.0 188.5,351.0 189.0,351.0 189.5,351.0 190.0,351.0 190.5,351.0 191.0,351.0 191.5,351.0 192.0,351.0 192.5,351.0 193.0,351.0 193.5,351.0 194.0,351.0 194.5,351.0 195.0,351.0 195.5,351.0 196.0,351.0 196.5,351.0 197.0,351.0 197.5,351.0 198.0,351.0 198.5,351.0 199.0,351.0 199.5,351.0 200.0,351.0 200.5,351.0 201.0,351.0 201.5,351.0 202.0,351.0 202.5,351.0 203.0,351.0 203.5,351.0 204.0,351.0 204.5,351.0 205.0,351.0 205.5,351.0 206.0,351.0 206.5,351.0 207.0,351.0 207.5,351.0 208.0,351.0 208.5,351.0 209.0,351.0 209.5,351.0 210.0,351.0 210.5,351.0 211.0,351.0 211.5,351.0 212.0,351.0 212.5,351.0 213.0,351.0 213.5,351.0 214.0,351.0 214.5,351.0 215.0,351.0 215.5,351.0 216.0,351.0 216.5,351.0 217.0,351.0 217.5,351.0 218.0,351.0 218.5,351.0 219.0,351.0 219.5,351.0 220.0,351.0 220.5,351.0 221.0,351.0 221.5,351.0 222.0,351.0 222.5,351.0 223.0,351.0 223.5,351.0 224.0,351.0 224.5,351.0 225.0,351.0 225.5,351.0 226.0,351.0 226.5,351.0 227.0,351.0 227.5,351.0 228.0,351.0 228.5,351.0 229.0,351.0 229.5,351.0 230.0,351.0 230.5,351.0 231.0,351.0 231.5,351.0 232.0,351.0 232.5,351.0 233.0,351.0 233.5,351.0 234.0,351.0 234.5,351.0 235.0,351.0 235.5,351.0 236.0,351.0 236.5,351.0 237.0,351.0 237.5,351.0 238.0,351.0 238.5,351.0 239.0,351.0 239.5,350.9 240.0,350.9 240.5,350.9 241.0,350.8 241.5,350.7 242.0,350.7 242.5,350.6 243.0,350.5 243.5,350.4 244.0,350.3 244.5,350.3 245.0,350.2 245.5,350.1 246.0,350.0 246.5,349.9 247.0,349.8 247.5,349.7 248.0,349.6 248.5,349.5 249.0,349.4 249.5,349.3 250.0,349.2 250.5,349.1 251.0,349.0 251.5,348.9 252.0,348.8 252.5,348.6 253.0,348.5 253.5,348.3 254.0,348.1 254.5,348.0 255.0,347.8 255.5,347.5 256.0,347.3 256.5,347.0 257.0,346.6 257.5,346.2 258.0,345.8 258.5,345.4 259.0,344.9 259.5,344.4 260.0,343.8 260.5,343.3 261.0,342.7 261.5,342.0 262.0,341.1 262.5,340.2 263.0,339.3 263.5,338.2 264.0,337.1 264.5,336.0 265.0,334.8 265.5,333.6 266.0,332.3 266.5,330.9 267.0,329.4 267.5,327.8 268.0,326.2 268.5,324.6 269.0,323.1 269.5,321.8 270.0,320.6 270.5,319.4 271.0,318.4 271.5,317.7 272.0,317.2 272.5,316.9 273.0,317.0 273.5,317.4 274.0,318.1 274.5,319.2 275.0,320.9 275.5,323.3 276.0,326.0 276.5,328.6 277.0,330.9 277.5,333.2 278.0,335.4 278.5,337.5 279.0,339.3 279.5,340.7 280.0,341.7 280.5,342.7 281.0,343.7 281.5,344.5 282.0,345.3 282.5,346.0 283.0,346.6 283.5,347.1 284.0,347.5 284.5,347.8 285.0,348.0 285.5,348.2 286.0,348.4 286.5,348.6 287.0,348.8 287.5,348.9 288.0,349.0 288.5,349.2 289.0,349.3 289.5,349.4 290.0,349.5 290.5,349.6 291.0,349.7 291.5,349.8 292.0,350.0 292.5,350.1 293.0,350.2 293.5,350.4 294.0,350.5 294.5,350.6 295.0,350.8 295.5,350.9 296.0,350.9 296.5,351.0 297.0,351.0 297.5,351.0 298.0,351.0 298.5,351.0 299.0,351.0 299.5,351.0 300.0,351.0 300.5,351.0 301.0,351.0 301.5,351.0 302.0,351.0 302.5,351.0 303.0,351.0 303.5,351.0 304.0,351.0 304.5,351.0 305.0,351.0 305.5,351.0 306.0,351.0 306.5,351.0 307.0,351.0 307.5,351.0 308.0,351.0 308.5,351.0 309.0,351.0 309.5,351.0 310.0,351.0 310.5,351.0 311.0,351.0 311.5,351.0 312.0,351.0 312.5,351.0 313.0,351.0 313.5,351.0 314.0,351.0 314.5,351.0 315.0,351.0 315.5,351.0 316.0,351.0 316.5,351.0 317.0,351.0 317.5,351.0 318.0,351.0 318.5,351.0 319.0,351.0 319.5,351.0 320.0,351.0 320.5,351.0 321.0,351.0 321.5,351.0 322.0,351.0 322.5,351.0 323.0,351.0 323.5,351.0 324.0,351.0 324.5,351.0 325.0,351.0 325.5,351.0 326.0,351.0 326.5,351.0 327.0,351.0 327.5,351.0 328.0,351.0 328.5,351.0 329.0,351.0 329.5,351.0 330.0,351.0 330.5,351.0 331.0,351.0 331.5,351.0 332.0,351.0 332.5,351.0 333.0,351.0 333.5,351.0 334.0,351.0 334.5,351.0 335.0,351.0 335.5,351.0 336.0,351.0 336.5,351.0 337.0,351.0 337.5,351.0 338.0,351.0 338.5,351.0 339.0,351.0 339.5,351.0 340.0,351.0"/>
<polyline stroke="#ff8000" points="160.0,351.0 160.5,351.0 161.0,351.0 161.5,351.0 162.0,351.0 162.5,351.0 163.0,351.0 163.5,351.0 164.0,351.0 164.5,351.0 165.0,351.0 165.5,351.0 166.0,351.0 166.5,351.0 167.0,351.0 167.5,351.0 168.0,351.0 168.5,351.0 169.0,351.0 169.5,351.0 170.0,351.0 170.5,351.0 171.0,351.0 171.5,351.0 172.0,351.0 172.5,351.0 173.0,351.0 173.5,351.0 174.0,351.0 174.5,351.0 175.0,351.0 175.5,351.0 176.0,351.0 176.5,351.0 177.0,351.0 177.5,351.0 178.0,351.0 178.5,351.0 179.0,351.0 179.5,351.0 180.0,351.0 180.5,351.0 181.0,351.0 181.5,351.0 182.0,351.0 182.5,351.0 183.0,351.0 183.5,351.0 184.0,351.0 184.5,351.0 185.0,351.0 185.5,351.0 186.0,351.0 186.5,351.0 187.0,351.0 187.5,351.0 188.0,351.0 188.5,351.0 189.0,351.0 189.5,351.0 190.0,351.0 190.5,351.0 191.0,351.0 191.5,351.0 192.0,351.0 192.5,351.0 193.0,351.0 193.5,351.0 194.0,351.0 194.5,351.0 195.0,351.0 195.5,351.0 196.0,351.0 196.5,351.0 197.0,351.0 197.5,351.0 198.0,351.0 198.5,351.0 199.0,351.0 199.5,351.0 200.0,351.0 200.5,351.0 201.0,351.0 201.5,351.0 202.0,351.0 202.5,351.0 203.0,351.0 203.5,351.0 204.0,351.0 204.5,351.0 205.0,351.0 205.5,351.0 206.0,351.0 206.5,351.0 207.0,351.0 207.5,351.0 208.0,351.0 208.5,351.0 209.0,351.0 209.5,351.0 210.0,351.0 210.5,351.0 211.0,351.0 211.5,351.0 212.0,351.0 212.5,351.0 213.0,351.0 213.5,351.0 214.0,351.0 214.5,351.0 215.0,351.0 215.5,351.0 216.0,351.0 216.5,351.0 217.0,351.0 217.5,351.0 218.0,351.0 218.5,351.0 219.0,351.0 219.5,351.0 220.0,351.0 220.5,351.0 221.0,351.0 221.5,351.0 222.0,351.0 222.5,351.0 223.0,351.0 223.5,351.0 224.0,351.0 224.5,351.0 225.0,351.0 225.5,351.0 226.0,351.0 226.5,351.0 227.0,351.0 227.5,351.0 228.0,351.0 228.5,351.0 229.0,351.0 229.5,351.0 230.0,351.0 230.5,351.0 231.0,351.0 231.5,351.0 232.0,351.0 232.5,351.0 233.0,351.0 233.5,351.0 234.0,351.0 234.5,351.0 235.0,351.0 235.5,351.0 236.0,351.0 236.5,351.0 237.0,351.0 237.5,351.0 238.0,351.0 238.5,351.0 239.0,351.0 239.5,351.0 240.0,351.0 240.5,351.0 241.0,351.0 241.5,351.0 242.0,351.0 242.5,351.0 243.0,351.0 243.5,351.0 244.0,351.0 244.5,351.0 245.0,351.0 245.5,351.0 246.0,351.0 246.5,351.0 247.0,350.9 247.5,350.9 248.0,350.8 248.5,350.8 249.0,350.7 249.5,350.7 250.0,350.6 250.5,350.5 251.0,350.5 251.5,350.4 252.0,350.3 252.5,350.2 253.0,350.1 253.5,350.0 254.0,350.0 254.5,349.9 255.0,349.8 255.5,349.7 256.0,349.6 256.5,349.5 257.0,349.4 257.5,349.3 258.0,349.2 258.5,349.0 259.0,348.9 259.5,348.8 260.0,348.6 260.5,348.5 261.0,348.3 261.5,348.2 262.0,348.0 262.5,347.9 263.0,347.7 263.5,347.5 264.0,347.4 264.5,347.2 265.0,347.0 265.5,346.8 266.0,346.6 266.5,346.3 267.0,346.1 267.5,345.8 268.0,345.5 268.5,345.2 269.0,344.9 269.5,344.5 270.0,344.0 270.5,343.5 271.0,342.9 271.5,342.2 272.0,341.6 272.5,340.8 273.0,340.0 273.5,339.2 274.0,338.3 274.5,337.4 275.0,336.4 275.5,335.2 276.0,333.9 276.5,332.5 277.0,330.9 277.5,329.2 278.0,327.4 278.5,325.6 279.0,323.6 279.5,321.4 280.0,319.0 280.5,316.4 281.0,313.8 281.5,311.0 282.0,308.2 282.5,305.5 283.0,302.7 283.5,299.9 284.0,297.0 284.5,294.0 285.0,291.0 285.5,287.9 286.0,284.8 286.5,281.6 287.0,277.7 287.5,272.7 288.0,266.8 288.5,261.1 289.0,256.0 289.5,251.1 290.0,246.7 290.5,243.0 291.0,239.6 291.5,237.1 292.0,235.7 292.5,234.5 293.0,233.9 293.5,234.0 294.0,234.9 294.5,236.5 295.0,239.3 295.5,244.2 296.0,250.3 296.5,257.0 297.0,262.0 297.5,266.5 298.0,272.1 298.5,280.0 299.0,286.6 299.5,292.5 300.0,297.6 300.5,302.1 301.0,306.2 301.5,310.1 302.0,313.9 302.5,317.8 303.0,321.8 303.5,325.6 304.0,328.6 304.5,330.9 305.0,332.8 305.5,334.5 306.0,336.1 306.5,337.4 307.0,338.7 307.5,339.8 308.0,340.9 308.5,342.0 309.0,342.9 309.5,343.8 310.0,344.6 310.5,345.3 311.0,345.8 311.5,346.2 312.0,346.7 312.5,347.0 313.0,347.4 313.5,347.7 314.0,348.0 314.5,348.3 315.0,348.5 315.5,348.7 316.0,348.8 316.5,349.0 317.0,349.1 317.5,349.2 318.0,349.3 318.5,349.4 319.0,349.5 319.5,349.5 320.0,349.6 320.5,349.7 321.0,349.8 321.5,349.8 322.0,349.9 322.5,350.0 323.0,350.1 323.5,350.3 324.0,350.4 324.5,350.5 325.0,350.6 325.5,350.7 326.0,350.8 326.5,350.9 327.0,350.9 327.5,351.0 328.0,351.0 328.5,351.0 329.0,351.0 329.5,351.0 330.0,351.0 330.5,351.0 331.0,351.0 331.5,351.0 332.0,351.0 332.5,351.0 333.0,351.0 333.5,351.0 334.0,351.0 334.5,351.0 335.0,351.0 335.5,351.0 336.0,351.0 336.5,351.0 337.0,351.0 337.5,351.0 338.0,351.0 338.5,351.0 339.0,351.0 339.5,351.0 340.0,351.0 340.5,351.0 341.0,351.0 341.5,351.0 342.0,351.0 342.5,351.0 343.0,351.0 343.5,351.0 344.0,351.0 344.5,351.0 345.0,351.0 345.5,351.0 346.0,351.0 346.5,351.0 347.0,351.0 347.5,351.0 348.0,351.0 348.5,351.0 349.0,351.0 349.5,351.0 350.0,351.0 350.5,351.0 351.0,351.0 351.5,351.0 352.0,351.0 352.5,351.0 353.0,351.0 353.5,351.0 354.0,351.0 354.5,351.0 355.0,351.0 355.5,351.0 356.0,351.0 356.5,351.0 357.0,351.0 357.5,351.0 358.0,351.0 358.5,351.0 359.0,351.0 359.5,351.0 360.0,351.0 360.5,351.0 361.0,351.0 361.5,351.0 362.0,351.0 362.5,351.0 363.0,351.0 363.5,351.0 364.0,351.0 364.5,351.0 365.0,351.0 365.5,351.0 366.0,351.0 366.5,351.0 367.0,351.0 367.5,351.0 368.0,351.0 368.5,351.0 369.0,351.0 369.5,351.0 370.0,351.0"/>
<polyline stroke="#ff0000" points="110.0,351.0 110.5,351.0 111.0,351.0 111.5,351.0 112.0,351.0 112.5,351.0 113.0,351.0 113.5,351.0 114.0,351.0 114.5,351.0 115.0,351.0 115.5,351.0 116.0,351.0 116.5,351.0 117.0,351.0 117.5,351.0 118.0,351.0 118.5,351.0 119.0,351.0 119.5,351.0 120.0,351.0 120.5,351.0 121.0,351.0 121.5,351.0 122.0,351.0 122.5,351.0 123.0,351.0 123.5,351.0 124.0,351.0 124.5,351.0 125.0,351.0 125.5,351.0 126.0,351.0 126.5,351.0 127.0,351.0 127.5,351.0 128.0,351.0 128.5,351.0 129.0,351.0 129.5,351.0 130.0,351.0 130.5,351.0 131.0,351.0 131.5,351.0 132.0,351.0 132.5,351.0 133.0,351.0 133.5,351.0 134.0,351.0 134.5,351.0 135.0,351.0 135.5,351.0 136.0,351.0 136.5,351.0 137.0,351.0 137.5,351.0 138.0,351.0 138.5,351.0 139.0,351.0 139.5,351.0 140.0,351.0 140.5,351.0 141.0,351.0 141.5,351.0 142.0,351.0 142.5,351.0 143.0,351.0 143.5,351.0 144.0,351.0 144.5,351.0 145.0,351.0 145.5,351.0 146.0,351.0 146.5,351.0 147.0,351.0 147.5,351.0 148.0,351.0 148.5,351.0 149.0,351.0 149.5,351.0 150.0,351.0 150.5,351.0 151.0,351.0 151.5,351.0 152.0,351.0 152.5,351.0 153.0,351.0 153.5,351.0 154.0,351.0 154.5,351.0 155.0,351.0 155.5,351.0 156.0,351.0 156.5,351.0 157.0,351.0 157.5,351.0 158.0,351.0 158.5,351.0 159.0,351.0 159.5,351.0 160.0,351.0 160.5,351.0 161.0,351.0 161.5,351.0 162.0,351.0 162.5,351.0 163.0,351.0 163.5,351.0 164.0,351.0 164.5,351.0 165.0,351.0 165.5,351.0 166.0,351.0 166.5,351.0 167.0,351.0 167.5,351.0 168.0,351.0 168.5,351.0 169.0,351.0 169.5,351.0 170.0,351.0 170.5,351.0 171.0,351.0 171.5,351.0 172.0,351.0 172.5,351.0 173.0,351.0 173.5,351.0 174.0,351.0 174.5,351.0 175.0,351.0 175.5,351.0 176.0,351.0 176.5,351.0 177.0,351.0 177.5,351.0 178.0,351.0 178.5,351.0 179.0,351.0 179.5,351.0 180.0,351.0 180.5,351.0 181.0,351.0 181.5,351.0 182.0,351.0 182.5,351.0 183.0,351.0 183.5,351.0 184.0,351.0 184.5,351.0 185.0,351.0 185.5,351.0 186.0,351.0 186.5,351.0 187.0,351.0 187.5,351.0 188.0,351.0 188.5,351.0 189.0,351.0 189.5,351.0 190.0,351.0 190.5,351.0 191.0,351.0 191.5,351.0 192.0,351.0 192.5,351.0 193.0,351.0 193.5,351.0 194.0,351.0 194.5,351.0 195.0,351.0 195.5,351.0 196.0,351.0 196.5,351.0 197.0,351.0 197.5,351.0 198.0,351.0 198.5,351.0 199.0,351.0 199.5,351.0 200.0,351.0 200.5,351.0 201.0,351.0 201.5,351.0 202.0,351.0 202.5,351.0 203.0,351.0 203.5,351.0 204.0,351.0 204.5,351.0 205.0,351.0 205.5,351.0 206.0,351.0 206.5,351.0 207.0,351.0 207.5,351.0 208.0,351.0 208.5,351.0 209.0,351.0 209.5,351.0 210.0,351.0 210.5,351.0 211.0,351.0 211.5,351.0 212.0,351.0 212.5,351.0 213.0,351.0 213.5,351.0 214.0,351.0 214.5,351.0 215.0,351.0 215.5,351.0 216.0,351.0 216.5,351.0 217.0,351.0 217.5,351.0 218.0,351.0 218.5,351.0 219.0,351.0 219.5,351.0 220.0,351.0 220.5,351.0 221.0,351.0 221.5,351.0 222.0,351.0 222.5,351.0 223.0,351.0 223.5,351.0 224.0,351.0 224.5,351.0 225.0,351.0 225.5,351.0 226.0,351.0 226.5,351.0 227.0,351.0 227.5,351.0 228.0,351.0 228.5,351.0 229.0,351.0 229.5,351.0 230.0,351.0 230.5,351.0 231.0,351.0 231.5,351.0 232.0,351.0 232.5,351.0 233.0,351.0 233.5,351.0 234.0,351.0 234.5,351.0 235.0,351.0 235.5,351.0 236.0,351.0 236.5,351.0 237.0,351.0 237.5,351.0 238.0,351.0 238.5,351.0 239.0,351.0 239.5,351.0 240.0,351.0 240.5,351.0 241.0,351.0 241.5,351.0 242.0,351.0 242.5,351.0 243.0,351.0 243.5,351.0 244.0,351.0 244.5,351.0 245.0,351.0 245.5,351.0 246.0,351.0 246.5,351.0 247.0,351.0 247.5,351.0 248.0,351.0 248.5,351.0 249.0,351.0 249.5,351.0 250.0,351.0 250.5,351.0 251.0,351.0 251.5,351.0 252.0,351.0 252.5,351.0 253.0,351.0 253.5,350.9 254.0,350.9 254.5,350.8 255.0,350.8 255.5,350.7 256.0,350.6 256.5,350.5 257.0,350.5 257.5,350.4 258.0,350.3 258.5,350.2 259.0,350.1 259.5,350.0 260.0,349.9 260.5,349.8 261.0,349.8 261.5,349.7 262.0,349.6 262.5,349.5 263.0,349.5 263.5,349.4 264.0,349.3 264.5,349.2 265.0,349.1 265.5,349.1 266.0,349.0 266.5,348.9 267.0,348.8 267.5,348.6 268.0,348.5 268.5,348.4 269.0,348.3 269.5,348.2 270.0,348.0 270.5,347.9 271.0,347.7 271.5,347.6 272.0,347.4 272.5,347.2 273.0,347.0 273.5,346.8 274.0,346.6 274.5,346.4 275.0,346.1 275.5,345.9 276.0,345.5 276.5,345.1 277.0,344.7 277.5,344.3 278.0,343.8 278.5,343.3 279.0,342.7 279.5,342.1 280.0,341.5 280.5,340.9 281.0,340.2 281.5,339.5 282.0,338.7 282.5,337.8 283.0,336.9 283.5,335.9 284.0,334.8 284.5,333.6 285.0,332.4 285.5,331.1 286.0,329.6 286.5,328.0 287.0,326.1 287.5,324.1 288.0,322.0 288.5,319.7 289.0,317.3 289.5,314.9 290.0,312.3 290.5,309.5 291.0,306.5 291.5,303.2 292.0,299.8 292.5,296.2 293.0,292.2 293.5,287.8 294.0,283.2 294.5,278.6 295.0,273.8 295.5,268.9 296.0,263.9 296.5,259.0 297.0,254.0 297.5,248.9 298.0,243.9 298.5,239.3 299.0,235.1 299.5,231.0 300.0,227.2 300.5,223.6 301.0,219.8 301.5,216.4 302.0,214.3 302.5,212.8 303.0,211.7 303.5,211.4 304.0,212.2 304.5,213.7 305.0,215.7 305.5,219.2 306.0,224.7 306.5,230.8 307.0,238.2 307.5,246.2 308.0,253.0 308.5,259.2 309.0,265.1 309.5,271.0 310.0,276.9 310.5,284.2 311.0,292.9 311.5,299.2 312.0,304.4 312.5,309.0 313.0,313.4 313.5,318.0 314.0,322.5 314.5,326.5 315.0,329.6 315.5,332.2 316.0,334.5 316.5,336.6 317.0,338.4 317.5,339.9 318.0,341.1 318.5,342.2 319.0,343.2 319.5,344.0 320.0,344.8 320.5,345.5 321.0,346.1 321.5,346.6 322.0,346.9 322.5,347.2 323.0,347.5 323.5,347.8 324.0,348.0 324.5,348.2 325.0,348.4 325.5,348.6 326.0,348.8 326.5,348.9 327.0,349.0 327.5,349.2 328.0,349.3 328.5,349.3 329.0,349.4 329.5,349.5 330.0,349.6 330.5,349.6 331.0,349.7 331.5,349.7 332.0,349.8 332.5,349.9 333.0,349.9 333.5,350.0 334.0,350.1 334.5,350.2 335.0,350.2 335.5,350.3 336.0,350.5 336.5,350.6 337.0,350.7 337.5,350.7 338.0,350.8 338.5,350.9 339.0,351.0 339.5,351.0 340.0,351.0 340.5,351.0 341.0,351.0 341.5,351.0 342.0,351.0 342.5,351.0 343.0,351.0 343.5,351.0 344.0,351.0 344.5,351.0 345.0,351.0 345.5,351.0 346.0,351.0 346.5,351.0 347.0,351.0 347.5,351.0 348.0,351.0 348.5,351.0 349.0,351.0 349.5,351.0 350.0,351.0 350.5,351.0 351.0,351.0 351.5,351.0 352.0,351.0 352.5,351.0 353.0,351.0 353.5,351.0 354.0,351.0 354.5,351.0 355.0,351.0 355.5,351.0 356.0,351.0 356.5,351.0 357.0,351.0 357.5,351.0 358.0,351.0 358.5,351.0 359.0,351.0 359.5,351.0 360.0,351.0 360.5,351.0 361.0,351.0 361.5,351.0 362.0,351.0 362.5,351.0 363.0,351.0 363.5,351.0 364.0,351.0 364.5,351.0 365.0,351.0 365.5,351.0 366.0,351.0 366.5,351.0 367.0,351.0 367.5,351.0 368.0,351.0 368.5,351.0 369.0,351.0 369.5,351.0 370.0,351.0 370.5,351.0 371.0,351.0 371.5,351.0 372.0,351.0 372.5,351.0 373.0,351.0 373.5,351.0 374.0,351.0 374.5,351.0 375.0,351.0 375.5,351.0 376.0,351.0 376.5,351.0 377.0,351.0 377.5,351.0 378.0,351.0 378.5,351.0 379.0,351.0 379.5,351.0 380.0,351.0 380.5,351.0 381.0,351.0 381.5,351.0 382.0,351.0 382.5,351.0 383.0,351.0 383.5,351.0 384.0,351.0 384.5,351.0 385.0,351.0 385.5,351.0 386.0,351.0 386.5,351.0 387.0,351.0 387.5,351.0 388.0,351.0 388.5,351.0 389.0,351.0 389.5,351.0 390.0,351.0 390.5,351.0 391.0,351.0 391.5,351.0 392.0,351.0 392.5,351.0 393.0,351.0 393.5,351.0 394.0,351.0 394.5,351.0 395.0,351.0 395.5,351.0 396.0,351.0 396.5,351.0 397.0,351.0 397.5,351.0 398.0,351.0 398.5,351.0 399.0,351.0 399.5,351.0 400.0,351.0"/>
<polyline stroke="#e60008" points="160.0,351.0 160.5,351.0 161.0,351.0 161.5,351.0 162.0,351.0 162.5,351.0 163.0,351.0 163.5,351.0 164.0,351.0 164.5,351.0 165.0,351.0 165.5,351.0 166.0,351.0 166.5,351.0 167.0,351.0 167.5,351.0 168.0,351.0 168.5,351.0 169.0,351.0 169.5,351.0 170.0,351.0 170.5,351.0 171.0,351.0 171.5,351.0 172.0,351.0 172.5,351.0 173.0,351.0 173.5,351.0 174.0,351.0 174.5,351.0 175.0,351.0 175.5,351.0 176.0,351.0 176.5,351.0 177.0,351.0 177.5,351.0 178.0,351.0 178.5,351.0 179.0,351.0 179.5,351.0 180.0,351.0 180.5,351.0 181.0,351.0 181.5,351.0 182.0,351.0 182.5,351.0 183.0,351.0 183.5,351.0 184.0,351.0 184.5,351.0 185.0,351.0 185.5,351.0 186.0,351.0 186.5,351.0 187.0,351.0 187.5,351.0 188.0,351.0 188.5,351.0 189.0,351.0 189.5,351.0 190.0,351.0 190.5,351.0 191.0,351.0 191.5,351.0 192.0,351.0 192.5,351.0 193.0,351.0 193.5,351.0 194.0,351.0 194.5,351.0 195.0,351.0 195.5,351.0 196.0,351.0 196.5,351.0 197.0,351.0 197.5,351.0 198.0,351.0 198.5,351.0 199.0,351.0 199.5,351.0 200.0,351.0 200.5,351.0 201.0,351.0 201.5,351.0 202.0,351.0 202.5,351.0 203.0,351.0 203.5,351.0 204.0,351.0 204.5,351.0 205.0,351.0 205.5,351.0 206.0,351.0 206.5,351.0 207.0,351.0 207.5,351.0 208.0,351.0 208.5,351.0 209.0,351.0 209.5,351.0 210.0,351.0 210.5,351.0 211.0,351.0 211.5,351.0 212.0,351.0 212.5,351.0 213.0,351.0 213.5,351.0 214.0,351.0 214.5,351.0 215.0,351.0 215.5,351.0 216.0,351.0 216.5,351.0 217.0,351.0 217.5,351.0 218.0,351.0 218.5,351.0 219.0,351.0 219.5,351.0 220.0,351.0 220.5,351.0 221.0,351.0 221.5,351.0 222.0,351.0 222.5,351.0 223.0,351.0 223.5,351.0 224.0,351.0 224.5,351.0 225.0,351.0 225.5,351.0 226.0,351.0 226.5,351.0 227.0,351.0 227.5,351.0 228.0,351.0 228.5,351.0 229.0,351.0 229.5,351.0 230.0,351.0 230.5,351.0 231.0,351.0 231.5,351.0 232.0,351.0 232.5,351.0 233.0,351.0 233.5,351.0 234.0,351.0 234.5,351.0 235.0,351.0 235.5,351.0 236.0,351.0 236.5,351.0 237.0,351.0 237.5,351.0 238.0,351.0 238.5,351.0 239.0,351.0 239.5,351.0 240.0,351.0 240.5,351.0 241.0,351.0 241.5,351.0 242.0,351.0 242.5,351.0 243.0,351.0 243.5,351.0 244.0,351.0 244.5,351.0 245.0,351.0 245.5,351.0 246.0,351.0 246.5,351.0 247.0,351.0 247.5,351.0 248.0,351.0 248.5,351.0 249.0,351.0 249.5,351.0 250.0,351.0 250.5,351.0 251.0,351.0 251.5,351.0 252.0,351.0 252.5,351.0 253.0,351.0 253.5,351.0 254.0,351.0 254.5,351.0 255.0,351.0 255.5,351.0 256.0,351.0 256.5,351.0 257.0,351.0 257.5,351.0 258.0,351.0 258.5,351.0 259.0,351.0 259.5,351.0 260.0,351.0 260.5,351.0 261.0,351.0 261.5,351.0 262.0,351.0 262.5,351.0 263.0,351.0 263.5,351.0 264.0,351.0 264.5,351.0 265.0,351.0 265.5,351.0 266.0,351.0 266.5,351.0 267.0,351.0 267.5,351.0 268.0,350.9 268.5,350.9 269.0,350.9 269.5,350.8 270.0,350.8 270.5,350.7 271.0,350.6 271.5,350.6 272.0,350.5 272.5,350.4 273.0,350.4 273.5,350.3 274.0,350.2 274.5,350.1 275.0,350.1 275.5,350.0 276.0,349.9 276.5,349.8 277.0,349.7 277.5,349.7 278.0,349.6 278.5,349.5 279.0,349.4 279.5,349.3 280.0,349.2 280.5,349.1 281.0,349.0 281.5,348.9 282.0,348.7 282.5,348.6 283.0,348.5 283.5,348.4 284.0,348.2 284.5,348.1 285.0,347.9 285.5,347.8 286.0,347.6 286.5,347.5 287.0,347.3 287.5,347.1 288.0,346.9 288.5,346.8 289.0,346.6 289.5,346.3 290.0,346.1 290.5,345.8 291.0,345.6 291.5,345.3 292.0,345.0 292.5,344.6 293.0,344.3 293.5,343.9 294.0,343.6 294.5,343.2 295.0,342.8 295.5,342.4 296.0,342.0 296.5,341.5 297.0,341.1 297.5,340.6 298.0,340.1 298.5,339.6 299.0,339.1 299.5,338.5 300.0,337.9 300.5,337.2 301.0,336.5 301.5,335.8 302.0,335.0 302.5,334.2 303.0,333.3 303.5,332.3 304.0,331.2 304.5,329.9 305.0,328.6 305.5,327.1 306.0,325.5 306.5,323.8 307.0,322.0 307.5,320.1 308.0,318.0 308.5,315.6 309.0,312.9 309.5,310.0 310.0,307.1 310.5,304.2 311.0,301.3 311.5,298.4 312.0,295.4 312.5,292.5 313.0,289.8 313.5,287.3 314.0,285.0 314.5,282.7 315.0,280.1 315.5,277.2 316.0,273.7 316.5,270.1 317.0,266.3 317.5,262.7 318.0,259.0 318.5,255.3 319.0,251.8 319.5,248.5 320.0,245.3 320.5,242.4 321.0,239.8 321.5,237.5 322.0,235.5 322.5,233.9 323.0,232.7 323.5,231.6 324.0,230.7 324.5,230.5 325.0,231.0 325.5,232.0 326.0,233.4 326.5,235.8 327.0,239.6 327.5,244.2 328.0,250.6 328.5,257.7 329.0,263.9 329.5,269.7 330.0,276.0 330.5,283.5 331.0,291.6 331.5,298.6 332.0,303.8 332.5,308.3 333.0,312.3 333.5,315.9 334.0,319.3 334.5,322.5 335.0,325.6 335.5,328.4 336.0,331.0 336.5,333.1 337.0,335.0 337.5,336.7 338.0,338.4 338.5,339.8 339.0,341.0 339.5,341.9 340.0,342.6 340.5,343.3 341.0,343.8 341.5,344.4 342.0,344.8 342.5,345.2 343.0,345.7 343.5,346.1 344.0,346.5 344.5,346.9 345.0,347.3 345.5,347.7 346.0,348.0 346.5,348.3 347.0,348.5 347.5,348.7 348.0,348.9 348.5,349.1 349.0,349.3 349.5,349.4 350.0,349.5 350.5,349.7 351.0,349.8 351.5,349.9 352.0,350.0 352.5,350.1 353.0,350.2 353.5,350.3 354.0,350.4 354.5,350.6 355.0,350.7 355.5,350.8 356.0,350.8 356.5,350.9 357.0,351.0 357.5,351.0 358.0,351.0 358.5,351.0 359.0,351.0 359.5,351.0 360.0,351.0 360.5,351.0 361.0,351.0 361.5,351.0 362.0,351.0 362.5,351.0 363.0,351.0 363.5,351.0 364.0,351.0 364.5,351.0 365.0,351.0 365.5,351.0 366.0,351.0 366.5,351.0 367.0,351.0 367.5,351.0 368.0,351.0 368.5,351.0 369.0,351.0 369.5,351.0 370.0,351.0 370.5,351.0 371.0,351.0 371.5,351.0 372.0,351.0 372.5,351.0 373.0,351.0 373.5,351.0 374.0,351.0 374.5,351.0 375.0,351.0 375.5,351.0 376.0,351.0 376.5,351.0 377.0,351.0 377.5,351.0 378.0,351.0 378.5,351.0 379.0,351.0 379.5,351.0 380.0,351.0 380.5,351.0 381.0,351.0 381.5,351.0 382.0,351.0 382.5,351.0 383.0,351.0 383.5,351.0 384.0,351.0 384.5,351.0 385.0,351.0 385.5,351.0 386.0,351.0 386.5,351.0 387.0,351.0 387.5,351.0 388.0,351.0 388.5,351.0 389.0,351.0 389.5,351.0 390.0,351.0 390.5,351.0 391.0,351.0 391.5,351.0 392.0,351.0 392.5,351.0 393.0,351.0 393.5,351.0 394.0,351.0 394.5,351.0 395.0,351.0 395.5,351.0 396.0,351.0 396.5,351.0 397.0,351.0 397.5,351.0 398.0,351.0 398.5,351.0 399.0,351.0 399.5,351.0 400.0,351.0 400.5,351.0 401.0,351.0 401.5,351.0 402.0,351.0 402.5,351.0 403.0,351.0 403.5,351.0 404.0,351.0 404.5,351.0 405.0,351.0 405.5,351.0 406.0,351.0 406.5,351.0 407.0,351.0 407.5,351.0 408.0,351.0 408.5,351.0 409.0,351.0 409.5,351.0 410.0,351.0 410.5,351.0 411.0,351.0 411.5,351.0 412.0,351.0 412.5,351.0 413.0,351.0 413.5,351.0 414.0,351.0 414.5,351.0 415.0,351.0 415.5,351.0 416.0,351.0 416.5,351.0 417.0,351.0 417.5,351.0 418.0,351.0 418.5,351.0 419.0,351.0 419.5,351.0 420.0,351.0"/>
<polyline stroke="#9c2040" points="250.0,351.0 250.5,351.0 251.0,351.0 251.5,351.0 252.0,351.0 252.5,351.0 253.0,351.0 253.5,351.0 254.0,351.0 254.5,351.0 255.0,351.0 255.5,351.0 256.0,351.0 256.5,351.0 257.0,351.0 257.5,351.0 258.0,351.0 258.5,351.0 259.0,351.0 259.5,351.0 260.0,351.0 260.5,351.0 261.0,351.0 261.5,351.0 262.0,351.0 262.5,351.0 263.0,351.0 263.5,351.0 264.0,351.0 264.5,351.0 265.0,351.0 265.5,351.0 266.0,351.0 266.5,351.0 267.0,351.0 267.5,351.0 268.0,351.0 268.5,351.0 269.0,351.0 269.5,351.0 270.0,351.0 270.5,351.0 271.0,351.0 271.5,351.0 272.0,351.0 272.5,351.0 273.0,351.0 273.5,351.0 274.0,351.0 274.5,351.0 275.0,351.0 275.5,351.0 276.0,351.0 276.5,351.0 277.0,351.0 277.5,351.0 278.0,351.0 278.5,351.0 279.0,351.0 279.5,351.0 280.0,351.0 280.5,351.0 281.0,351.0 281.5,351.0 282.0,351.0 282.5,351.0 283.0,351.0 283.5,351.0 284.0,351.0 284.5,351.0 285.0,351.0 285.5,351.0 286.0,351.0 286.5,351.0 287.0,351.0 287.5,351.0 288.0,351.0 288.5,351.0 289.0,351.0 289.5,351.0 290.0,351.0 290.5,351.0 291.0,351.0 291.5,351.0 292.0,351.0 292.5,351.0 293.0,351.0 293.5,351.0 294.0,351.0 294.5,351.0 295.0,351.0 295.5,351.0 296.0,351.0 296.5,351.0 297.0,351.0 297.5,351.0 298.0,351.0 298.5,351.0 299.0,351.0 299.5,351.0 300.0,351.0 300.5,351.0 301.0,351.0 301.5,351.0 302.0,351.0 302.5,351.0 303.0,351.0 303.5,351.0 304.0,351.0 304.5,351.0 305.0,351.0 305.5,351.0 306.0,351.0 306.5,351.0 307.0,351.0 307.5,351.0 308.0,351.0 308.5,351.0 309.0,351.0 309.5,351.0 310.0,351.0 310.5,351.0 311.0,351.0 311.5,351.0 312.0,351.0 312.5,351.0 313.0,351.0 313.5,351.0 314.0,351.0 314.5,351.0 315.0,351.0 315.5,351.0 316.0,351.0 316.5,351.0 317.0,351.0 317.5,351.0 318.0,351.0 318.5,351.0 319.0,351.0 319.5,351.0 320.0,351.0 320.5,351.0 321.0,351.0 321.5,351.0 322.0,351.0 322.5,351.0 323.0,351.0 323.5,351.0 324.0,351.0 324.5,351.0 325.0,351.0 325.5,351.0 326.0,351.0 326.5,351.0 327.0,351.0 327.5,351.0 328.0,351.0 328.5,351.0 329.0,351.0 329.5,351.0 330.0,351.0 330.5,351.0 331.0,351.0 331.5,351.0 332.0,351.0 332.5,351.0 333.0,351.0 333.5,351.0 334.0,351.0 334.5,351.0 335.0,351.0 335.5,351.0 336.0,351.0 336.5,351.0 337.0,351.0 337.5,351.0 338.0,351.0 338.5,351.0 339.0,351.0 339.5,351.0 340.0,351.0 340.5,351.0 341.0,351.0 341.5,351.0 342.0,351.0 342.5,351.0 343.0,351.0 343.5,351.0 344.0,351.0 344.5,351.0 345.0,351.0 345.5,351.0 346.0,351.0 346.5,351.0 347.0,351.0 347.5,351.0 348.0,351.0 348.5,351.0 349.0,351.0 349.5,351.0 350.0,351.0 350.5,351.0 351.0,351.0 351.5,351.0 352.0,351.0 352.5,351.0 353.0,351.0 353.5,351.0 354.0,351.0 354.5,351.0 355.0,351.0 355.5,351.0 356.0,351.0 356.5,351.0 357.0,351.0 357.5,351.0 358.0,351.0 358.5,351.0 359.0,351.0 359.5,351.0 360.0,351.0 360.5,351.0 361.0,351.0 361.5,351.0 362.0,351.0 362.5,351.0 363.0,351.0 363.5,351.0 364.0,351.0 364.5,351.0 365.0,351.0 365.5,351.0 366.0,351.0 366.5,351.0 367.0,351.0 367.5,351.0 368.0,351.0 368.5,351.0 369.0,351.0 369.5,350.9 370.0,350.9 370.5,350.8 371.0,350.7 371.5,350.6 372.0,350.5 372.5,350.4 373.0,350.3 373.5,350.2 374.0,350.0 374.5,349.9 375.0,349.8 375.5,349.7 376.0,349.6 376.5,349.6 377.0,349.5 377.5,349.4 378.0,349.3 378.5,349.2 379.0,349.2 379.5,349.1 380.0,349.0 380.5,349.0 381.0,348.9 381.5,348.8 382.0,348.7 382.5,348.7 383.0,348.6 383.5,348.5 384.0,348.4 384.5,348.3 385.0,348.2 385.5,348.1 386.0,348.0 386.5,347.9 387.0,347.8 387.5,347.7 388.0,347.6 388.5,347.5 389.0,347.3 389.5,347.2 390.0,347.1 390.5,346.9 391.0,346.8 391.5,346.6 392.0,346.4 392.5,346.3 393.0,346.1 393.5,345.9 394.0,345.8 394.5,345.6 395.0,345.4 395.5,345.2 396.0,345.0 396.5,344.8 397.0,344.6 397.5,344.3 398.0,344.1 398.5,343.8 399.0,343.6 399.5,343.3 400.0,343.0 400.5,342.6 401.0,342.3 401.5,342.0 402.0,341.6 402.5,341.3 403.0,340.9 403.5,340.5 404.0,340.1 404.5,339.6 405.0,339.2 405.5,338.7 406.0,338.2 406.5,337.7 407.0,337.1 407.5,336.6 408.0,336.0 408.5,335.4 409.0,334.8 409.5,334.2 410.0,333.6 410.5,332.9 411.0,332.1 411.5,331.4 412.0,330.6 412.5,329.8 413.0,329.0 413.5,328.2 414.0,327.4 414.5,326.5 415.0,325.6 415.5,324.7 416.0,323.8 416.5,323.1 417.0,322.5 417.5,322.0 418.0,321.5 418.5,321.0 419.0,320.6 419.5,320.4 420.0,320.3 420.5,320.4 421.0,320.5 421.5,320.7 422.0,321.0 422.5,321.4 423.0,321.7 423.5,322.2 424.0,322.9 424.5,323.7 425.0,324.7 425.5,325.7 426.0,326.7 426.5,327.7 427.0,328.7 427.5,329.7 428.0,330.8 428.5,331.8 429.0,332.9 429.5,333.9 430.0,335.0 430.5,336.1 431.0,337.2 431.5,338.2 432.0,339.2 432.5,340.2 433.0,341.0 433.5,341.8 434.0,342.6 434.5,343.3 435.0,344.0 435.5,344.6 436.0,345.2 436.5,345.7 437.0,346.1 437.5,346.5 438.0,346.8 438.5,347.2 439.0,347.5 439.5,347.7 440.0,348.0 440.5,348.2 441.0,348.4 441.5,348.6 442.0,348.7 442.5,348.9 443.0,349.0 443.5,349.1 444.0,349.2 444.5,349.3 445.0,349.4 445.5,349.5 446.0,349.6 446.5,349.7 447.0,349.8 447.5,350.0 448.0,350.1 448.5,350.3 449.0,350.4 449.5,350.6 450.0,350.7 450.5,350.8 451.0,350.9 451.5,351.0 452.0,351.0 452.5,351.0 453.0,351.0 453.5,351.0 454.0,351.0 454.5,351.0 455.0,351.0 455.5,351.0 456.0,351.0 456.5,351.0 457.0,351.0 457.5,351.0 458.0,351.0 458.5,351.0 459.0,351.0 459.5,351.0 460.0,351.0 460.5,351.0 461.0,351.0 461.5,351.0 462.0,351.0 462.5,351.0 463.0,351.0 463.5,351.0 464.0,351.0 464.5,351.0 465.0,351.0 465.5,351.0 466.0,351.0 466.5,351.0 467.0,351.0 467.5,351.0 468.0,351.0 468.5,351.0 469.0,351.0 469.5,351.0 470.0,351.0 470.5,351.0 471.0,351.0 471.5,351.0 472.0,351.0 472.5,351.0 473.0,351.0 473.5,351.0 474.0,351.0 474.5,351.0 475.0,351.0 475.5,351.0 476.0,351.0 476.5,351.0 477.0,351.0 477.5,351.0 478.0,351.0 478.5,351.0 479.0,351.0 479.5,351.0 480.0,351.0 480.5,351.0 481.0,351.0 481.5,351.0 482.0,351.0 482.5,351.0 483.0,351.0 483.5,351.0 484.0,351.0 484.5,351.0 485.0,351.0 485.5,351.0 486.0,351.0 486.5,351.0 487.0,351.0 487.5,351.0 488.0,351.0 488.5,351.0 489.0,351.0 489.5,351.0 490.0,351.0 490.5,351.0 491.0,351.0 491.5,351.0 492.0,351.0 492.5,351.0 493.0,351.0 493.5,351.0 494.0,351.0 494.5,351.0 495.0,351.0 495.5,351.0 496.0,351.0 496.5,351.0 497.0,351.0 497.5,351.0 498.0,351.0 498.5,351.0 499.0,351.0 499.5,351.0 500.0,351.0"/>
<polyline stroke="#ff7070" points="300.0,351.0 300.5,351.0 301.0,351.0 301.5,351.0 302.0,351.0 302.5,351.0 303.0,351.0 303.5,351.0 304.0,351.0 304.5,351.0 305.0,351.0 305.5,351.0 306.0,351.0 306.5,351.0 307.0,351.0 307.5,351.0 308.0,351.0 308.5,351.0 309.0,351.0 309.5,351.0 310.0,351.0 310.5,351.0 311.0,351.0 311.5,351.0 312.0,351.0 312.5,351.0 313.0,351.0 313.5,351.0 314.0,351.0 314.5,351.0 315.0,351.0 315.5,351.0 316.0,351.0 316.5,351.0 317.0,351.0 317.5,351.0 318.0,351.0 318.5,351.0 319.0,351.0 319.5,351.0 320.0,351.0 320.5,351.0 321.0,351.0 321.5,351.0 322.0,351.0 322.5,351.0 323.0,351.0 323.5,351.0 324.0,351.0 324.5,351.0 325.0,351.0 325.5,351.0 326.0,351.0 326.5,351.0 327.0,351.0 327.5,351.0 328.0,351.0 328.5,351.0 329.0,351.0 329.5,351.0 330.0,351.0 330.5,351.0 331.0,351.0 331.5,351.0 332.0,351.0 332.5,351.0 333.0,351.0 333.5,351.0 334.0,351.0 334.5,351.0 335.0,351.0 335.5,351.0 336.0,351.0 336.5,351.0 337.0,351.0 337.5,351.0 338.0,351.0 338.5,351.0 339.0,351.0 339.5,351.0 340.0,351.0 340.5,351.0 341.0,351.0 341.5,351.0 342.0,351.0 342.5,351.0 343.0,351.0 343.5,351.0 344.0,351.0 344.5,351.0 345.0,351.0 345.5,351.0 346.0,351.0 346.5,351.0 347.0,351.0 347.5,351.0 348.0,351.0 348.5,351.0 349.0,351.0 349.5,351.0 350.0,351.0 350.5,351.0 351.0,351.0 351.5,351.0 352.0,351.0 352.5,351.0 353.0,351.0 353.5,351.0 354.0,351.0 354.5,351.0 355.0,351.0 355.5,351.0 356.0,351.0 356.5,351.0 357.0,351.0 357.5,351.0 358.0,351.0 358.5,351.0 359.0,351.0 359.5,351.0 360.0,351.0 360.5,351.0 361.0,351.0 361.5,351.0 362.0,351.0 362.5,351.0 363.0,351.0 363.5,351.0 364.0,351.0 364.5,351.0 365.0,351.0 365.5,351.0 366.0,351.0 366.5,351.0 367.0,351.0 367.5,351.0 368.0,351.0 368.5,351.0 369.0,351.0 369.5,351.0 370.0,351.0 370.5,351.0 371.0,351.0 371.5,351.0 372.0,351.0 372.5,351.0 373.0,351.0 373.5,351.0 374.0,351.0 374.5,351.0 375.0,351.0 375.5,351.0 376.0,351.0 376.5,351.0 377.0,351.0 377.5,351.0 378.0,351.0 378.5,351.0 379.0,351.0 379.5,351.0 380.0,351.0 380.5,351.0 381.0,351.0 381.5,351.0 382.0,351.0 382.5,351.0 383.0,351.0 383.5,351.0 384.0,351.0 384.5,351.0 385.0,351.0 385.5,351.0 386.0,351.0 386.5,351.0 387.0,351.0 387.5,351.0 388.0,351.0 388.5,351.0 389.0,351.0 389.5,351.0 390.0,351.0 390.5,351.0 391.0,351.0 391.5,351.0 392.0,351.0 392.5,351.0 393.0,351.0 393.5,351.0 394.0,351.0 394.5,351.0 395.0,351.0 395.5,351.0 396.0,351.0 396.5,351.0 397.0,351.0 397.5,351.0 398.0,351.0 398.5,351.0 399.0,351.0 399.5,351.0 400.0,351.0 400.5,351.0 401.0,351.0 401.5,351.0 402.0,351.0 402.5,351.0 403.0,351.0 403.5,351.0 404.0,351.0 404.5,351.0 405.0,351.0 405.5,351.0 406.0,351.0 406.5,351.0 407.0,351.0 407.5,351.0 408.0,351.0 408.5,351.0 409.0,351.0 409.5,351.0 410.0,351.0 410.5,351.0 411.0,351.0 411.5,351.0 412.0,351.0 412.5,351.0 413.0,351.0 413.5,351.0 414.0,351.0 414.5,351.0 415.0,351.0 415.5,351.0 416.0,351.0 416.5,351.0 417.0,351.0 417.5,351.0 418.0,351.0 418.5,351.0 419.0,351.0 419.5,351.0 420.0,351.0 420.5,351.0 421.0,351.0 421.5,351.0 422.0,351.0 422.5,351.0 423.0,351.0 423.5,351.0 424.0,351.0 424.5,351.0 425.0,351.0 425.5,351.0 426.0,351.0 426.5,351.0 427.0,351.0 427.5,351.0 428.0,350.9 428.5,350.8 429.0,350.7 429.5,350.6 430.0,350.4 430.5,350.2 431.0,350.0 431.5,349.8 432.0,349.6 432.5,349.4 433.0,349.2 433.5,349.0 434.0,348.7 434.5,348.4 435.0,348.0 435.5,347.7 436.0,347.3 436.5,346.9 437.0,346.4 437.5,346.0 438.0,345.5 438.5,345.1 439.0,344.6 439.5,344.1 440.0,343.6 440.5,343.2 441.0,342.7 441.5,342.2 442.0,341.8 442.5,341.3 443.0,340.8 443.5,340.3 444.0,339.8 444.5,339.3 445.0,338.8 445.5,338.3 446.0,337.7 446.5,337.2 447.0,336.6 447.5,336.1 448.0,335.5 448.5,335.0 449.0,334.4 449.5,333.9 450.0,333.4 450.5,332.8 451.0,332.3 451.5,331.7 452.0,331.1 452.5,330.4 453.0,329.7 453.5,328.9 454.0,328.0 454.5,326.8 455.0,325.6 455.5,324.3 456.0,322.9 456.5,321.7 457.0,320.5 457.5,319.2 458.0,317.9 458.5,316.7 459.0,315.5 459.5,314.6 460.0,313.9 460.5,313.3 461.0,312.9 461.5,312.5 462.0,312.1 462.5,311.8 463.0,311.5 463.5,311.2 464.0,310.8 464.5,310.5 465.0,310.1 465.5,309.7 466.0,309.3 466.5,308.9 467.0,308.5 467.5,308.0 468.0,307.6 468.5,307.1 469.0,306.6 469.5,306.1 470.0,305.5 470.5,304.9 471.0,304.2 471.5,303.3 472.0,302.3 472.5,301.2 473.0,299.9 473.5,298.5 474.0,297.1 474.5,295.5 475.0,293.6 475.5,291.4 476.0,289.3 476.5,287.3 477.0,285.3 477.5,283.4 478.0,281.6 478.5,280.5 479.0,279.8 479.5,279.2 480.0,278.8 480.5,278.6 481.0,278.7 481.5,279.2 482.0,280.0 482.5,280.9 483.0,282.0 483.5,283.3 484.0,285.3 484.5,287.7 485.0,290.4 485.5,293.3 486.0,297.0 486.5,301.2 487.0,305.6 487.5,309.8 488.0,314.0 488.5,318.3 489.0,322.5 489.5,326.2 490.0,329.3 490.5,332.3 491.0,335.0 491.5,337.2 492.0,338.9 492.5,340.3 493.0,341.5 493.5,342.6 494.0,343.5 494.5,344.3 495.0,345.0 495.5,345.5 496.0,346.0 496.5,346.5 497.0,346.9 497.5,347.3 498.0,347.6 498.5,348.0 499.0,348.3 499.5,348.6 500.0,348.8 500.5,349.1 501.0,349.3 501.5,349.5 502.0,349.8 502.5,350.0 503.0,350.2 503.5,350.4 504.0,350.6 504.5,350.8 505.0,350.9 505.5,351.0 506.0,351.0 506.5,351.0 507.0,351.0 507.5,351.0 508.0,351.0 508.5,351.0 509.0,351.0 509.5,351.0 510.0,351.0 510.5,351.0 511.0,351.0 511.5,351.0 512.0,351.0 512.5,351.0 513.0,351.0 513.5,351.0 514.0,351.0 514.5,351.0 515.0,351.0 515.5,351.0 516.0,351.0 516.5,351.0 517.0,351.0 517.5,351.0 518.0,351.0 518.5,351.0 519.0,351.0 519.5,351.0 520.0,351.0 520.5,351.0 521.0,351.0 521.5,351.0 522.0,351.0 522.5,351.0 523.0,351.0 523.5,351.0 524.0,351.0 524.5,351.0 525.0,351.0 525.5,351.0 526.0,351.0 526.5,351.0 527.0,351.0 527.5,351.0 528.0,351.0 528.5,351.0 529.0,351.0 529.5,351.0 530.0,351.0 530.5,351.0 531.0,351.0 531.5,351.0 532.0,351.0 532.5,351.0 533.0,351.0 533.5,351.0 534.0,351.0 534.5,351.0 535.0,351.0 535.5,351.0 536.0,351.0 536.5,351.0 537.0,351.0 537.5,351.0 538.0,351.0 538.5,351.0 539.0,351.0 539.5,351.0 540.0,351.0 540.5,351.0 541.0,351.0 541.5,351.0 542.0,351.0 542.5,351.0 543.0,351.0 543.5,351.0 544.0,351.0 544.5,351.0 545.0,351.0 545.5,351.0 546.0,351.0 546.5,351.0 547.0,351.0 547.5,351.0 548.0,351.0 548.5,351.0 549.0,351.0 549.5,351.0 550.0,351.0 550.5,351.0 551.0,351.0 551.5,351.0 552.0,351.0 552.5,351.0 553.0,351.0 553.5,351.0 554.0,351.0 554.5,351.0 555.0,351.0 555.5,351.0 556.0,351.0 556.5,351.0 557.0,351.0 557.5,351.0 558.0,351.0 558.5,351.0 559.0,351.0 559.5,351.0 560.0,351.0"/>
<polyline stroke="#ff80ff" points="192.0,351.0 192.5,351.0 193.0,351.0 193.5,351.0 194.0,351.0 194.5,351.0 195.0,351.0 195.5,351.0 196.0,351.0 196.5,351.0 197.0,351.0 197.5,351.0 198.0,351.0 198.5,351.0 199.0,351.0 199.5,351.0 200.0,351.0 200.5,351.0 201.0,351.0 201.5,351.0 202.0,351.0 202.5,351.0 203.0,351.0 203.5,351.0 204.0,351.0 204.5,351.0 205.0,351.0 205.5,351.0 206.0,351.0 206.5,351.0 207.0,351.0 207.5,351.0 208.0,351.0 208.5,351.0 209.0,351.0 209.5,351.0 210.0,351.0 210.5,351.0 211.0,351.0 211.5,351.0 212.0,351.0 212.5,351.0 213.0,351.0 213.5,351.0 214.0,351.0 214.5,351.0 215.0,351.0 215.5,351.0 216.0,351.0 216.5,351.0 217.0,351.0 217.5,351.0 218.0,351.0 218.5,351.0 219.0,351.0 219.5,351.0 220.0,351.0 220.5,351.0 221.0,351.0 221.5,351.0 222.0,351.0 222.5,351.0 223.0,351.0 223.5,351.0 224.0,351.0 224.5,351.0 225.0,351.0 225.5,351.0 226.0,351.0 226.5,351.0 227.0,351.0 227.5,351.0 228.0,351.0 228.5,351.0 229.0,351.0 229.5,351.0 230.0,351.0 230.5,351.0 231.0,351.0 231.5,351.0 232.0,351.0 232.5,351.0 233.0,351.0 233.5,351.0 234.0,351.0 234.5,351.0 235.0,351.0 235.5,351.0 236.0,351.0 236.5,351.0 237.0,351.0 237.5,351.0 238.0,351.0 238.5,351.0 239.0,351.0 239.5,351.0 240.0,351.0 240.5,351.0 241.0,351.0 241.5,351.0 242.0,351.0 242.5,351.0 243.0,351.0 243.5,351.0 244.0,351.0 244.5,351.0 245.0,351.0 245.5,351.0 246.0,351.0 246.5,351.0 247.0,351.0 247.5,351.0 248.0,351.0 248.5,351.0 249.0,351.0 249.5,351.0 250.0,351.0 250.5,351.0 251.0,351.0 251.5,351.0 252.0,351.0 252.5,351.0 253.0,351.0 253.5,351.0 254.0,351.0 254.5,351.0 255.0,351.0 255.5,351.0 256.0,351.0 256.5,351.0 257.0,351.0 257.5,351.0 258.0,351.0 258.5,351.0 259.0,351.0 259.5,351.0 260.0,351.0 260.5,351.0 261.0,351.0 261.5,351.0 262.0,351.0 262.5,351.0 263.0,351.0 263.5,351.0 264.0,351.0 264.5,351.0 265.0,351.0 265.5,351.0 266.0,351.0 266.5,351.0 267.0,351.0 267.5,351.0 268.0,351.0 268.5,351.0 269.0,351.0 269.5,351.0 270.0,351.0 270.5,351.0 271.0,351.0 271.5,351.0 272.0,351.0 272.5,351.0 273.0,351.0 273.5,351.0 274.0,351.0 274.5,351.0 275.0,351.0 275.5,351.0 276.0,351.0 276.5,351.0 277.0,351.0 277.5,351.0 278.0,351.0 278.5,351.0 279.0,351.0 279.5,351.0 280.0,351.0 280.5,351.0 281.0,351.0 281.5,351.0 282.0,351.0 282.5,351.0 283.0,351.0 283.5,351.0 284.0,351.0 284.5,351.0 285.0,351.0 285.5,351.0 286.0,351.0 286.5,351.0 287.0,351.0 287.5,351.0 288.0,351.0 288.5,351.0 289.0,351.0 289.5,351.0 290.0,351.0 290.5,351.0 291.0,351.0 291.5,351.0 292.0,351.0 292.5,351.0 293.0,351.0 293.5,351.0 294.0,351.0 294.5,351.0 295.0,351.0 295.5,351.0 296.0,351.0 296.5,351.0 297.0,351.0 297.5,351.0 298.0,351.0 298.5,351.0 299.0,351.0 299.5,351.0 300.0,351.0 300.5,351.0 301.0,351.0 301.5,351.0 302.0,351.0 302.5,351.0 303.0,351.0 303.5,351.0 304.0,351.0 304.5,351.0 305.0,351.0 305.5,351.0 306.0,351.0 306.5,351.0 307.0,351.0 307.5,351.0 308.0,351.0 308.5,351.0 309.0,351.0 309.5,351.0 310.0,351.0 310.5,351.0 311.0,351.0 311.5,351.0 312.0,351.0 312.5,351.0 313.0,351.0 313.5,351.0 314.0,351.0 314.5,351.0 315.0,351.0 315.5,351.0 316.0,351.0 316.5,351.0 317.0,351.0 317.5,351.0 318.0,351.0 318.5,351.0 319.0,351.0 319.5,351.0 320.0,351.0 320.5,351.0 321.0,351.0 321.5,351.0 322.0,351.0 322.5,351.0 323.0,351.0 323.5,351.0 324.0,351.0 324.5,351.0 325.0,351.0 325.5,351.0 326.0,351.0 326.5,351.0 327.0,351.0 327.5,351.0 328.0,351.0 328.5,351.0 329.0,351.0 329.5,351.0 330.0,351.0 330.5,351.0 331.0,351.0 331.5,351.0 332.0,351.0 332.5,351.0 333.0,351.0 333.5,351.0 334.0,351.0 334.5,351.0 335.0,351.0 335.5,351.0 336.0,351.0 336.5,351.0 337.0,351.0 337.5,351.0 338.0,351.0 338.5,351.0 339.0,351.0 339.5,351.0 340.0,351.0 340.5,351.0 341.0,351.0 341.5,351.0 342.0,351.0 342.5,351.0 343.0,351.0 343.5,351.0 344.0,351.0 344.5,351.0 345.0,351.0 345.5,351.0 346.0,351.0 346.5,351.0 347.0,351.0 347.5,351.0 348.0,351.0 348.5,351.0 349.0,351.0 349.5,351.0 350.0,351.0 350.5,351.0 351.0,351.0 351.5,351.0 352.0,351.0 352.5,351.0 353.0,351.0 353.5,351.0 354.0,351.0 354.5,351.0 355.0,351.0 355.5,351.0 356.0,351.0 356.5,351.0 357.0,351.0 357.5,351.0 358.0,351.0 358.5,351.0 359.0,351.0 359.5,351.0 360.0,351.0 360.5,351.0 361.0,351.0 361.5,351.0 362.0,351.0 362.5,351.0 363.0,351.0 363.5,351.0 364.0,351.0 364.5,351.0 365.0,351.0 365.5,351.0 366.0,351.0 366.5,351.0 367.0,351.0 367.5,351.0 368.0,351.0 368.5,351.0 369.0,351.0 369.5,351.0 370.0,351.0 370.5,351.0 371.0,351.0 371.5,351.0 372.0,351.0 372.5,351.0 373.0,351.0 373.5,351.0 374.0,351.0 374.5,351.0 375.0,351.0 375.5,351.0 376.0,351.0 376.5,351.0 377.0,351.0 377.5,351.0 378.0,351.0 378.5,351.0 379.0,351.0 379.5,351.0 380.0,351.0 380.5,351.0 381.0,351.0 381.5,351.0 382.0,351.0 382.5,351.0 383.0,351.0 383.5,351.0 384.0,351.0 384.5,351.0 385.0,351.0 385.5,351.0 386.0,351.0 386.5,351.0 387.0,351.0 387.5,351.0 388.0,351.0 388.5,351.0 389.0,351.0 389.5,351.0 390.0,351.0 390.5,351.0 391.0,351.0 391.5,351.0 392.0,351.0 392.5,351.0 393.0,351.0 393.5,351.0 394.0,351.0 394.5,351.0 395.0,351.0 395.5,351.0 396.0,351.0 396.5,351.0 397.0,351.0 397.5,351.0 398.0,351.0 398.5,351.0 399.0,351.0 399.5,351.0 400.0,351.0 400.5,351.0 401.0,351.0 401.5,351.0 402.0,351.0 402.5,351.0 403.0,351.0 403.5,351.0 404.0,351.0 404.5,351.0 405.0,351.0 405.5,351.0 406.0,351.0 406.5,351.0 407.0,351.0 407.5,351.0 408.0,351.0 408.5,351.0 409.0,351.0 409.5,351.0 410.0,351.0 410.5,351.0 411.0,351.0 411.5,351.0 412.0,351.0 412.5,351.0 413.0,351.0 413.5,351.0 414.0,351.0 414.5,351.0 415.0,351.0 415.5,351.0 416.0,351.0 416.5,351.0 417.0,351.0 417.5,351.0 418.0,351.0 418.5,351.0 419.0,351.0 419.5,351.0 420.0,351.0 420.5,351.0 421.0,351.0 421.5,351.0 422.0,351.0 422.5,351.0 423.0,351.0 423.5,351.0 424.0,351.0 424.5,351.0 425.0,351.0 425.5,351.0 426.0,351.0 426.5,351.0 427.0,351.0 427.5,351.0 428.0,351.0 428.5,351.0 429.0,351.0 429.5,351.0 430.0,351.0 430.5,351.0 431.0,351.0 431.5,351.0 432.0,351.0 432.5,351.0 433.0,351.0 433.5,351.0 434.0,351.0 434.5,351.0 435.0,351.0 435.5,351.0 436.0,351.0 436.5,351.0 437.0,351.0 437.5,351.0 438.0,351.0 438.5,351.0 439.0,351.0 439.5,351.0 440.0,351.0 440.5,351.0 441.0,351.0 441.5,351.0 442.0,351.0 442.5,351.0 443.0,351.0 443.5,351.0 444.0,351.0 444.5,351.0 445.0,351.0 445.5,351.0 446.0,351.0 446.5,351.0 447.0,351.0 447.5,351.0 448.0,351.0 448.5,350.9 449.0,350.9 449.5,350.9 450.0,350.9 450.5,350.8 451.0,350.8 451.5,350.8 452.0,350.7 452.5,350.7 453.0,350.6 453.5,350.6 454.0,350.5 454.5,350.5 455.0,350.4 455.5,350.4 456.0,350.3 456.5,350.2 457.0,350.2 457.5,350.1 458.0,350.1 458.5,350.0 459.0,350.0 459.5,349.9 460.0,349.8 460.5,349.8 461.0,349.7 461.5,349.7 462.0,349.6 462.5,349.6 463.0,349.5 463.5,349.5 464.0,349.4 464.5,349.4 465.0,349.3 465.5,349.3 466.0,349.2 466.5,349.2 467.0,349.2 467.5,349.1 468.0,349.1 468.5,349.0 469.0,349.0 469.5,348.9 470.0,348.9 470.5,348.9 471.0,348.8 471.5,348.8 472.0,348.7 472.5,348.7 473.0,348.6 473.5,348.6 474.0,348.5 474.5,348.5 475.0,348.5 475.5,348.4 476.0,348.4 476.5,348.3 477.0,348.3 477.5,348.2 478.0,348.1 478.5,348.1 479.0,348.0 479.5,348.0 480.0,347.9 480.5,347.9 481.0,347.8 481.5,347.7 482.0,347.7 482.5,347.6 483.0,347.6 483.5,347.5 484.0,347.4 484.5,347.4 485.0,347.3 485.5,347.2 486.0,347.2 486.5,347.1 487.0,347.0 487.5,347.0 488.0,346.9 488.5,346.8 489.0,346.8 489.5,346.7 490.0,346.6 490.5,346.5 491.0,346.5 491.5,346.4 492.0,346.3 492.5,346.3 493.0,346.2 493.5,346.1 494.0,346.1 494.5,346.0 495.0,345.9 495.5,345.9 496.0,345.8 496.5,345.7 497.0,345.7 497.5,345.6 498.0,345.5 498.5,345.4 499.0,345.3 499.5,345.2 500.0,345.1 500.5,345.0 501.0,344.8 501.5,344.7 502.0,344.5 502.5,344.4 503.0,344.2 503.5,344.0 504.0,343.8 504.5,343.6 505.0,343.4 505.5,343.1 506.0,342.9 506.5,342.7 507.0,342.5 507.5,342.2 508.0,342.0 508.5,341.8 509.0,341.6 509.5,341.4 510.0,341.2 510.5,341.0 511.0,340.8 511.5,340.5 512.0,340.3 512.5,340.1 513.0,339.9 513.5,339.7 514.0,339.5 514.5,339.3 515.0,339.0 515.5,338.8 516.0,338.6 516.5,338.4 517.0,338.1 517.5,337.9 518.0,337.6 518.5,337.4 519.0,337.2 519.5,336.9 520.0,336.6 520.5,336.4 521.0,336.1 521.5,335.8 522.0,335.5 522.5,335.3 523.0,335.0 523.5,334.7 524.0,334.4 524.5,334.1 525.0,333.8 525.5,333.5 526.0,333.2 526.5,333.0 527.0,332.7 527.5,332.4 528.0,332.1 528.5,331.9 529.0,331.6 529.5,331.3 530.0,331.0 530.5,330.8 531.0,330.5 531.5,330.2 532.0,329.9 532.5,329.7 533.0,329.4 533.5,329.1 534.0,328.9 534.5,328.6 535.0,328.4 535.5,328.2 536.0,327.9 536.5,327.7 537.0,327.4 537.5,327.2 538.0,327.0 538.5,326.8 539.0,326.5 539.5,326.3 540.0,326.1 540.5,325.9 541.0,325.7 541.5,325.4 542.0,325.2 542.5,325.1 543.0,324.9 543.5,324.7 544.0,324.5 544.5,324.3 545.0,324.2 545.5,324.0 546.0,323.9 546.5,323.7 547.0,323.6 547.5,323.5 548.0,323.3 548.5,323.2 549.0,323.1 549.5,322.9 550.0,322.8 550.5,322.7 551.0,322.5 551.5,322.4 552.0,322.2 552.5,322.1 553.0,321.9 553.5,321.8 554.0,321.6 554.5,321.5 555.0,321.4 555.5,321.3 556.0,321.2 556.5,321.1 557.0,321.0 557.5,320.9 558.0,320.9 558.5,320.8 559.0,320.8 559.5,320.8 560.0,320.9 560.5,320.9 561.0,321.1 561.5,321.2 562.0,321.4 562.5,321.6 563.0,321.8 563.5,322.0 564.0,322.2 564.5,322.5 565.0,322.9 565.5,323.3 566.0,323.7 566.5,324.2 567.0,324.7 567.5,325.3 568.0,326.0 568.5,326.7 569.0,327.5 569.5,328.3 570.0,329.2 570.5,330.1 571.0,331.1 571.5,332.2 572.0,333.2 572.5,334.3 573.0,335.2 573.5,336.1 574.0,337.0 574.5,337.8 575.0,338.6 575.5,339.3 576.0,340.0 576.5,340.7 577.0,341.3 577.5,342.0 578.0,342.5 578.5,343.1 579.0,343.6 579.5,344.1 580.0,344.6 580.5,345.0 581.0,345.5 581.5,345.9 582.0,346.2 582.5,346.6 583.0,346.9 583.5,347.2 584.0,347.5 584.5,347.8 585.0,348.0 585.5,348.3 586.0,348.5 586.5,348.7 587.0,348.9 587.5,349.0 588.0,349.2 588.5,349.3 589.0,349.4 589.5,349.5 590.0,349.5 590.5,349.6 591.0,349.7 591.5,349.8 592.0,349.8 592.5,349.9 593.0,350.0 593.5,350.2 594.0,350.3 594.5,350.4 595.0,350.5 595.5,350.7 596.0,350.8 596.5,350.9 597.0,350.9 597.5,351.0 598.0,351.0 598.5,351.0 599.0,351.0 599.5,351.0 600.0,351.0 600.5,351.0 601.0,351.0 601.5,351.0 602.0,351.0 602.5,351.0 603.0,351.0 603.5,351.0 604.0,351.0 604.5,351.0 605.0,351.0 605.5,351.0 606.0,351.0 606.5,351.0 607.0,351.0 607.5,351.0 608.0,351.0 608.5,351.0 609.0,351.0 609.5,351.0 610.0,351.0 610.5,351.0 611.0,351.0 611.5,351.0 612.0,351.0 612.5,351.0 613.0,351.0 613.5,351.0 614.0,351.0 614.5,351.0 615.0,351.0 615.5,351.0 616.0,351.0 616.5,351.0 617.0,351.0 617.5,351.0 618.0,351.0 618.5,351.0 619.0,351.0 619.5,351.0 620.0,351.0 620.5,351.0 621.0,351.0 621.5,351.0 622.0,351.0 622.5,351.0 623.0,351.0 623.5,351.0 624.0,351.0 624.5,351.0 625.0,351.0 625.5,351.0 626.0,351.0 626.5,351.0 627.0,351.0 627.5,351.0 628.0,351.0 628.5,351.0 629.0,351.0 629.5,351.0 630.0,351.0 630.5,351.0 631.0,351.0 631.5,351.0 632.0,351.0 632.5,351.0 633.0,351.0 633.5,351.0 634.0,351.0 634.5,351.0 635.0,351.0 635.5,351.0 636.0,351.0 636.5,351.0 637.0,351.0 637.5,351.0 638.0,351.0 638.5,351.0 639.0,351.0 639.5,351.0 640.0,351.0"/>
<polyline stroke="#80b0ff" points="69.0,350.5 69.5,350.5 70.0,350.5 70.5,350.5 71.0,350.5 71.5,350.5 72.0,350.5 72.5,350.5 73.0,350.5 73.5,350.5 74.0,350.5 74.5,350.5 75.0,350.5 75.5,350.5 76.0,350.5 76.5,350.5 77.0,350.5 77.5,350.5 78.0,350.5 78.5,350.5 79.0,350.5 79.5,350.5 80.0,350.5 80.5,350.5 81.0,350.5 81.5,350.5 82.0,350.5 82.5,350.5 83.0,350.5 83.5,350.5 84.0,350.5 84.5,350.5 85.0,350.5 85.5,350.5 86.0,350.5 86.5,350.5 87.0,350.5 87.5,350.5 88.0,350.5 88.5,350.5 89.0,350.5 89.5,350.5 90.0,350.5 90.5,350.5 91.0,350.5 91.5,350.5 92.0,350.5 92.5,350.5 93.0,350.5 93.5,350.5 94.0,350.5 94.5,350.5 95.0,350.5 95.5,350.5 96.0,350.5 96.5,350.5 97.0,350.5 97.5,350.5 98.0,350.5 98.5,350.5 99.0,350.5 99.5,350.5 100.0,350.5 100.5,350.5 101.0,350.5 101.5,350.5 102.0,350.5 102.5,350.5 103.0,350.5 103.5,350.5 104.0,350.5 104.5,350.5 105.0,350.5 105.5,350.5 106.0,350.5 106.5,350.5 107.0,350.5 107.5,350.5 108.0,350.5 108.5,350.5 109.0,350.5 109.5,350.5 110.0,350.5 110.5,350.5 111.0,350.5 111.5,350.5 112.0,350.5 112.5,350.5 113.0,350.5 113.5,350.5 114.0,350.5 114.5,350.4 115.0,350.4 115.5,350.4 116.0,350.3 116.5,350.3 117.0,350.3 117.5,350.2 118.0,350.2 118.5,350.1 119.0,350.1 119.5,350.0 120.0,349.9 120.5,349.9 121.0,349.8 121.5,349.7 122.0,349.6 122.5,349.4 123.0,349.3 123.5,349.1 124.0,349.0 124.5,348.8 125.0,348.6 125.5,348.4 126.0,348.1 126.5,347.7 127.0,347.3 127.5,346.8 128.0,346.3 128.5,345.8 129.0,345.2 129.5,344.6 130.0,344.0 130.5,343.4 131.0,342.8 131.5,342.1 132.0,341.4 132.5,340.7 133.0,339.9 133.5,339.1 134.0,338.2 134.5,337.4 135.0,336.5 135.5,335.5 136.0,334.6 136.5,333.7 137.0,332.7 137.5,331.7 138.0,330.7 138.5,329.6 139.0,328.5 139.5,327.3 140.0,326.2 140.5,325.0 141.0,323.9 141.5,322.7 142.0,321.6 142.5,320.4 143.0,319.1 143.5,317.8 144.0,316.8 144.5,315.9 145.0,315.2 145.5,314.6 146.0,314.1 146.5,313.7 147.0,313.6 147.5,313.8 148.0,314.4 148.5,315.3 149.0,316.4 149.5,318.4 150.0,321.7 150.5,325.4 151.0,328.8 151.5,331.1 152.0,332.5 152.5,333.7 153.0,334.7 153.5,335.5 154.0,336.3 154.5,337.0 155.0,337.6 155.5,338.2 156.0,338.8 156.5,339.3 157.0,339.7 157.5,340.2 158.0,340.6 158.5,341.1 159.0,341.5 159.5,342.0 160.0,342.5 160.5,343.0 161.0,343.6 161.5,344.1 162.0,344.6 162.5,345.1 163.0,345.6 163.5,345.9 164.0,346.3 164.5,346.5 165.0,346.7 165.5,346.9 166.0,347.1 166.5,347.2 167.0,347.4 167.5,347.5 168.0,347.7 168.5,347.8 169.0,347.9 169.5,347.9 170.0,348.0 170.5,348.0 171.0,348.0 171.5,348.1 172.0,348.1 172.5,348.1 173.0,348.1 173.5,348.2 174.0,348.2 174.5,348.2 175.0,348.2 175.5,348.2 176.0,348.2 176.5,348.2 177.0,348.2 177.5,348.1 178.0,348.1 178.5,348.1 179.0,348.0 179.5,348.0 180.0,347.9 180.5,347.8 181.0,347.7 181.5,347.7 182.0,347.6 182.5,347.5 183.0,347.4 183.5,347.3 184.0,347.2 184.5,347.1 185.0,347.0 185.5,346.8 186.0,346.7 186.5,346.5 187.0,346.3 187.5,346.2 188.0,346.0 188.5,345.8 189.0,345.6 189.5,345.4 190.0,345.2 190.5,344.9 191.0,344.6 191.5,344.3 192.0,343.9 192.5,343.5 193.0,343.1 193.5,342.7 194.0,342.3 194.5,341.9 195.0,341.5 195.5,341.1 196.0,340.8 196.5,340.6 197.0,340.3 197.5,340.0 198.0,339.8 198.5,339.5 199.0,339.3 199.5,339.0 200.0,338.8 200.5,338.6 201.0,338.3 201.5,338.1 202.0,337.9 202.5,337.7 203.0,337.5 203.5,337.3 204.0,337.1 204.5,336.9 205.0,336.7 205.5,336.5 206.0,336.3 206.5,336.1 207.0,335.9 207.5,335.8 208.0,335.6 208.5,335.4 209.0,335.2 209.5,335.1 210.0,334.9 210.5,334.7 211.0,334.6 211.5,334.4 212.0,334.2 212.5,334.1 213.0,333.9 213.5,333.8 214.0,333.6 214.5,333.5 215.0,333.4 215.5,333.3 216.0,333.2 216.5,333.2 217.0,333.1 217.5,333.0 218.0,333.0 218.5,332.9 219.0,332.8 219.5,332.8 220.0,332.7 220.5,332.7 221.0,332.6 221.5,332.6 222.0,332.5 222.5,332.5 223.0,332.5 223.5,332.4 224.0,332.4 224.5,332.4 225.0,332.3 225.5,332.3 226.0,332.3 226.5,332.2 227.0,332.2 227.5,332.2 228.0,332.1 228.5,332.1 229.0,332.1 229.5,332.1 230.0,332.0 230.5,332.0 231.0,332.0 231.5,332.0 232.0,332.0 232.5,331.9 233.0,331.9 233.5,331.9 234.0,331.9 234.5,331.9 235.0,331.9 235.5,331.9 236.0,331.9 236.5,331.9 237.0,331.9 237.5,331.9 238.0,331.9 238.5,332.0 239.0,332.0 239.5,332.0 240.0,332.0 240.5,332.1 241.0,332.1 241.5,332.1 242.0,332.1 242.5,332.2 243.0,332.2 243.5,332.2 244.0,332.2 244.5,332.3 245.0,332.3 245.5,332.3 246.0,332.4 246.5,332.4 247.0,332.4 247.5,332.4 248.0,332.5 248.5,332.5 249.0,332.6 249.5,332.6 250.0,332.6 250.5,332.7 251.0,332.7 251.5,332.8 252.0,332.8 252.5,332.8 253.0,332.9 253.5,332.9 254.0,333.0 254.5,333.1 255.0,333.1 255.5,333.2 256.0,333.2 256.5,333.3 257.0,333.4 257.5,333.5 258.0,333.6 258.5,333.7 259.0,333.8 259.5,333.9 260.0,334.0 260.5,334.1 261.0,334.2 261.5,334.4 262.0,334.5 262.5,334.6 263.0,334.7 263.5,334.8 264.0,334.9 264.5,334.9 265.0,335.0 265.5,335.1 266.0,335.2 266.5,335.3 267.0,335.4 267.5,335.5 268.0,335.6 268.5,335.7 269.0,335.8 269.5,335.9 270.0,336.0 270.5,336.1 271.0,336.2 271.5,336.3 272.0,336.4 272.5,336.5 273.0,336.6 273.5,336.7 274.0,336.8 274.5,337.0 275.0,337.1 275.5,337.2 276.0,337.3 276.5,337.4 277.0,337.5 277.5,337.6 278.0,337.8 278.5,337.9 279.0,338.0 279.5,338.1 280.0,338.3 280.5,338.4 281.0,338.5 281.5,338.7 282.0,338.8 282.5,338.9 283.0,339.1 283.5,339.2 284.0,339.3 284.5,339.4 285.0,339.6 285.5,339.7 286.0,339.8 286.5,340.0 287.0,340.1 287.5,340.2 288.0,340.4 288.5,340.5 289.0,340.6 289.5,340.8 290.0,340.9 290.5,341.0 291.0,341.1 291.5,341.2 292.0,341.4 292.5,341.5 293.0,341.6 293.5,341.7 294.0,341.8 294.5,341.9 295.0,342.1 295.5,342.2 296.0,342.3 296.5,342.4 297.0,342.5 297.5,342.6 298.0,342.7 298.5,342.8 299.0,342.9 299.5,343.0 300.0,343.1 300.5,343.2 301.0,343.4 301.5,343.5 302.0,343.6 302.5,343.7 303.0,343.8 303.5,343.9 304.0,344.0 304.5,344.1 305.0,344.2 305.5,344.3 306.0,344.4 306.5,344.5 307.0,344.6 307.5,344.7 308.0,344.8 308.5,344.8 309.0,344.9 309.5,345.0 310.0,345.1 310.5,345.2 311.0,345.3 311.5,345.4 312.0,345.5 312.5,345.6 313.0,345.6 313.5,345.7 314.0,345.8 314.5,345.9 315.0,346.0 315.5,346.0 316.0,346.1 316.5,346.2 317.0,346.3 317.5,346.3 318.0,346.4 318.5,346.5 319.0,346.6 319.5,346.6 320.0,346.7 320.5,346.8 321.0,346.9 321.5,346.9 322.0,347.0 322.5,347.1 323.0,347.1 323.5,347.2 324.0,347.3 324.5,347.3 325.0,347.4 325.5,347.5 326.0,347.5 326.5,347.6 327.0,347.6 327.5,347.7 328.0,347.8 328.5,347.8 329.0,347.9 329.5,347.9 330.0,348.0 330.5,348.1 331.0,348.1 331.5,348.2 332.0,348.2 332.5,348.3 333.0,348.3 333.5,348.4 334.0,348.4 334.5,348.5 335.0,348.5 335.5,348.6 336.0,348.6 336.5,348.7 337.0,348.7 337.5,348.8 338.0,348.8 338.5,348.9 339.0,348.9 339.5,349.0 340.0,349.0 340.5,349.1 341.0,349.1 341.5,349.1 342.0,349.2 342.5,349.2 343.0,349.3 343.5,349.3 344.0,349.3 344.5,349.4 345.0,349.4 345.5,349.4 346.0,349.5 346.5,349.5 347.0,349.5 347.5,349.6 348.0,349.6 348.5,349.6 349.0,349.7 349.5,349.7 350.0,349.7 350.5,349.8 351.0,349.8 351.5,349.8 352.0,349.9 352.5,349.9 353.0,349.9 353.5,349.9 354.0,350.0 354.5,350.0 355.0,350.0 355.5,350.0 356.0,350.1 356.5,350.1 357.0,350.1 357.5,350.1 358.0,350.1 358.5,350.2 359.0,350.2 359.5,350.2 360.0,350.2 360.5,350.2 361.0,350.2 361.5,350.2 362.0,350.2 362.5,350.3 363.0,350.3 363.5,350.3 364.0,350.3 364.5,350.3 365.0,350.3 365.5,350.3 366.0,350.3 366.5,350.3 367.0,350.4 367.5,350.4 368.0,350.4 368.5,350.4 369.0,350.4 369.5,350.4 370.0,350.4 370.5,350.4 371.0,350.4 371.5,350.4 372.0,350.4 372.5,350.4 373.0,350.5 373.5,350.5 374.0,350.5 374.5,350.5 375.0,350.5 375.5,350.5 376.0,350.5 376.5,350.5 377.0,350.5 377.5,350.5 378.0,350.5 378.5,350.5 379.0,350.5 379.5,350.5 380.0,350.5 380.5,350.5 381.0,350.5 381.5,350.5 382.0,350.5 382.5,350.5 383.0,350.5 383.5,350.5 384.0,350.5 384.5,350.5 385.0,350.5 385.5,350.5 386.0,350.5 386.5,350.5 387.0,350.5 387.5,350.5 388.0,350.5 388.5,350.5 389.0,350.5 389.5,350.5 390.0,350.5 390.5,350.5 391.0,350.5 391.5,350.5 392.0,350.5 392.5,350.5 393.0,350.5 393.5,350.5 394.0,350.5 394.5,350.5 395.0,350.5 395.5,350.5 396.0,350.5 396.5,350.5 397.0,350.5 397.5,350.5 398.0,350.5 398.5,350.5 399.0,350.5 399.5,350.5 400.0,350.5 400.5,350.5 401.0,350.5 401.5,350.5 402.0,350.5 402.5,350.5 403.0,350.5 403.5,350.5 404.0,350.5 404.5,350.5 405.0,350.5 405.5,350.5 406.0,350.5 406.5,350.5 407.0,350.5 407.5,350.5 408.0,350.5 408.5,350.5 409.0,350.5 409.5,350.5 410.0,350.5 410.5,350.5 411.0,350.5 411.5,350.5 412.0,350.5 412.5,350.5 413.0,350.5 413.5,350.5 414.0,350.5 414.5,350.5 415.0,350.5 415.5,350.5 416.0,350.5 416.5,350.5 417.0,350.5 417.5,350.5 418.0,350.5 418.5,350.5 419.0,350.5 419.5,350.5 420.0,350.5 420.5,350.5 421.0,350.5 421.5,350.5 422.0,350.5 422.5,350.5 423.0,350.5 423.5,350.5 424.0,350.5 424.5,350.5 425.0,350.5 425.5,350.5 426.0,350.5 426.5,350.5 427.0,350.5 427.5,350.5 428.0,350.5 428.5,350.5 429.0,350.5 429.5,350.5 430.0,350.5 430.5,350.5 431.0,350.5 431.5,350.5 432.0,350.5 432.5,350.5 433.0,350.5 433.5,350.5 434.0,350.5 434.5,350.5 435.0,350.5 435.5,350.5 436.0,350.5 436.5,350.5 437.0,350.5 437.5,350.5 438.0,350.5 438.5,350.5 439.0,350.5 439.5,350.5 440.0,350.5 440.5,350.5 441.0,350.5 441.5,350.5 442.0,350.5 442.5,350.5 443.0,350.5 443.5,350.5 444.0,350.5 444.5,350.5 445.0,350.5 445.5,350.5 446.0,350.5 446.5,350.5 447.0,350.5 447.5,350.5 448.0,350.5 448.5,350.5 449.0,350.5 449.5,350.5 450.0,350.5 450.5,350.5 451.0,350.5 451.5,350.5 452.0,350.5 452.5,350.5 453.0,350.5 453.5,350.5 454.0,350.5 454.5,350.5 455.0,350.5 455.5,350.5 456.0,350.5 456.5,350.5 457.0,350.5 457.5,350.5 458.0,350.5 458.5,350.5 459.0,350.5 459.5,350.5 460.0,350.5 460.5,350.5 461.0,350.5 461.5,350.5 462.0,350.5 462.5,350.5 463.0,350.5 463.5,350.5 464.0,350.5 464.5,350.5 465.0,350.5 465.5,350.5 466.0,350.5 466.5,350.5 467.0,350.5 467.5,350.5 468.0,350.5 468.5,350.5 469.0,350.5 469.5,350.5 470.0,350.5 470.5,350.5 471.0,350.5 471.5,350.5 472.0,350.5 472.5,350.5 473.0,350.5 473.5,350.5 474.0,350.5 474.5,350.5 475.0,350.5 475.5,350.5 476.0,350.5 476.5,350.5 477.0,350.5 477.5,350.5 478.0,350.5 478.5,350.5 479.0,350.5 479.5,350.5 480.0,350.5 480.5,350.5 481.0,350.5 481.5,350.5 482.0,350.5 482.5,350.5 483.0,350.5 483.5,350.5 484.0,350.5 484.5,350.5 485.0,350.5 485.5,350.5 486.0,350.5 486.5,350.5 487.0,350.5 487.5,350.5 488.0,350.5 488.5,350.5 489.0,350.5 489.5,350.5 490.0,350.5 490.5,350.5 491.0,350.5 491.5,350.5 492.0,350.5 492.5,350.5 493.0,350.5 493.5,350.5 494.0,350.5 494.5,350.5 495.0,350.5 495.5,350.5 496.0,350.5 496.5,350.5 497.0,350.5 497.5,350.5 498.0,350.5 498.5,350.5 499.0,350.5 499.5,350.5 500.0,350.5 500.5,350.5 501.0,350.5 501.5,350.5 502.0,350.5 502.5,350.5 503.0,350.5 503.5,350.5 504.0,350.5 504.5,350.5 505.0,350.5 505.5,350.5 506.0,350.5 506.5,350.5 507.0,350.5 507.5,350.5 508.0,350.5 508.5,350.5 509.0,350.5 509.5,350.5 510.0,350.5 510.5,350.5 511.0,350.5 511.5,350.5 512.0,350.5 512.5,350.5 513.0,350.5 513.5,350.5 514.0,350.5 514.5,350.5 515.0,350.5 515.5,350.5 516.0,350.5 516.5,350.5 517.0,350.5 517.5,350.5 518.0,350.5 518.5,350.5 519.0,350.5 519.5,350.5 520.0,350.5 520.5,350.5 521.0,350.5 521.5,350.5 522.0,350.5 522.5,350.5 523.0,350.5 523.5,350.5 524.0,350.5 524.5,350.5 525.0,350.5 525.5,350.5 526.0,350.5 526.5,350.5 527.0,350.5 527.5,350.5 528.0,350.5 528.5,350.5 529.0,350.5 529.5,350.5 530.0,350.5 530.5,350.5 531.0,350.5 531.5,350.5 532.0,350.5 532.5,350.5 533.0,350.5 533.5,350.5 534.0,350.5 534.5,350.5 535.0,350.5 535.5,350.5 536.0,350.5 536.5,350.5 537.0,350.5 537.5,350.5 538.0,350.5 538.5,350.5 539.0,350.5 539.5,350.5 540.0,350.5 540.5,350.5 541.0,350.5 541.5,350.5 542.0,350.5 542.5,350.5 543.0,350.5 543.5,350.5 544.0,350.5 544.5,350.5 545.0,350.5 545.5,350.5 546.0,350.5 546.5,350.5 547.0,350.5 547.5,350.5 548.0,350.5 548.5,350.5 549.0,350.5 549.5,350.5 550.0,350.5 550.5,350.5 551.0,350.5 551.5,350.5 552.0,350.5 552.5,350.5 553.0,350.5 553.5,350.5 554.0,350.5 554.5,350.5 555.0,350.5 555.5,350.5 556.0,350.5 556.5,350.5 557.0,350.5 557.5,350.5 558.0,350.5 558.5,350.5 559.0,350.5 559.5,350.5 560.0,350.5 560.5,350.5 561.0,350.5 561.5,350.5 562.0,350.5 562.5,350.5 563.0,350.5 563.5,350.5 564.0,350.5 564.5,350.5 565.0,350.5 565.5,350.5 566.0,350.5 566.5,350.5 567.0,350.5 567.5,350.5 568.0,350.5 568.5,350.5 569.0,350.5 569.5,350.5 570.0,350.5 570.5,350.5 571.0,350.5 571.5,350.5 572.0,350.5 572.5,350.5 573.0,350.5 573.5,350.5 574.0,350.5 574.5,350.5 575.0,350.5 575.5,350.5 576.0,350.5 576.5,350.5 577.0,350.5 577.5,350.5 578.0,350.5 578.5,350.5 579.0,350.5 579.5,350.5 580.0,350.5 580.5,350.5 581.0,350.5 581.5,350.5 582.0,350.5 582.5,350.5 583.0,350.5 583.5,350.5 584.0,350.5 584.5,350.5 585.0,350.5 585.5,350.5 586.0,350.5 586.5,350.5 587.0,350.5 587.5,350.5 588.0,350.5 588.5,350.5 589.0,350.5 589.5,350.5 590.0,350.5 590.5,350.5 591.0,350.5 591.5,350.5 592.0,350.5 592.5,350.5 593.0,350.5 593.5,350.5 594.0,350.5 594.5,350.5 595.0,350.5 595.5,350.5 596.0,350.5 596.5,350.5 597.0,350.5 597.5,350.5 598.0,350.5 598.5,350.5 599.0,350.5 599.5,350.5 600.0,350.5 600.5,350.5 601.0,350.5 601.5,350.5 602.0,350.5 602.5,350.5 603.0,350.5 603.5,350.5 604.0,350.5 604.5,350.5 605.0,350.5 605.5,350.5 606.0,350.5 606.5,350.5 607.0,350.5 607.5,350.5 608.0,350.5 608.5,350.5 609.0,350.5 609.5,350.5 610.0,350.5"/>
<polyline stroke="#ff40ff" points="97.2,66.0 97.5,56.0 97.9,47.0 98.3,56.0 98.6,66.0"/>
</g>
<g stroke="#000" stroke-width="2" fill="none" shape-rendering="crispEdges">
<line x1="69" y1="351.0" x2="69" y2="357.0"/>
<line x1="110" y1="351.0" x2="110" y2="354.0"/>
<line x1="151" y1="351.0" x2="151" y2="357.0"/>
<line x1="192" y1="351.0" x2="192" y2="354.0"/>
<line x1="232" y1="351.0" x2="232" y2="357.0"/>
<line x1="273" y1="351.0" x2="273" y2="354.0"/>
<line x1="314" y1="351.0" x2="314" y2="357.0"/>
<line x1="355" y1="351.0" x2="355" y2="354.0"/>
<line x1="396" y1="351.0" x2="396" y2="357.0"/>
<line x1="437" y1="351.0" x2="437" y2="354.0"/>
<line x1="477" y1="351.0" x2="477" y2="357.0"/>
<line x1="518" y1="351.0" x2="518" y2="354.0"/>
<line x1="559" y1="351.0" x2="559" y2="357.0"/>
<line x1="600" y1="351.0" x2="600" y2="354.0"/>
<line x1="640" y1="351.0" x2="640" y2="357.0"/>
<line x1="63.0" y1="351" x2="69.0" y2="351"/>
<line x1="66.0" y1="325" x2="69.0" y2="325"/>
<line x1="63.0" y1="299" x2="69.0" y2="299"/>
<line x1="66.0" y1="273" x2="69.0" y2="273"/>
<line x1="63.0" y1="247" x2="69.0" y2="247"/>
<line x1="66.0" y1="221" x2="69.0" y2="221"/>
<line x1="63.0" y1="195" x2="69.0" y2="195"/>
<line x1="66.0" y1="169" x2="69.0" y2="169"/>
<line x1="63.0" y1="143" x2="69.0" y2="143"/>
<line x1="66.0" y1="117" x2="69.0" y2="117"/>
<line x1="63.0" y1="91" x2="69.0" y2="91"/>
<line x1="66.0" y1="65" x2="69.0" y2="65"/>
<line x1="63.0" y1="39" x2="69.0" y2="39"/>
</g>
<g font-size="16" letter-spacing="1">
<text x="69.5" y="376" text-anchor="middle">350</text>
<text x="151.5" y="376" text-anchor="middle">450</text>
<text x="232.5" y="376" text-anchor="middle">550</text>
<text x="314.5" y="376" text-anchor="middle">650</text>
<text x="396.5" y="376" text-anchor="middle">750</text>
<text x="477.5" y="376" text-anchor="middle">850</text>
<text x="559.5" y="376" text-anchor="middle">950</text>
<text x="640.5" y="376" text-anchor="middle">1050</text>
<text x="60" y="355.5" text-anchor="end">0</text>
<text x="60" y="303.5" text-anchor="end">10</text>
<text x="60" y="251.5" text-anchor="end">20</text>
<text x="60" y="199.5" text-anchor="end">30</text>
<text x="60" y="147.5" text-anchor="end">40</text>
<text x="60" y="95.5" text-anchor="end">50</text>
<text x="60" y="43.5" text-anchor="end">60</text>
</g>
<text x="24.5" y="22.6" font-size="22" textLength="747" lengthAdjust="spacing">Spectra Scaled to Total Beam Power Through Collimation Package</text>
<text x="254" y="400.6" font-size="23" textLength="201.5" lengthAdjust="spacing">Wavelength (nm)</text>
<text transform="translate(23.6,330) rotate(-90)" font-size="25" textLength="271" lengthAdjust="spacing">Spectral Flux (mW/nm)</text>
<g class="lg">
<rect x="670.5" y="39.5" width="109" height="276" fill="#fff" stroke="#000" stroke-width="1" shape-rendering="crispEdges"/>
<path d="M672 47H701" stroke="#8080ff" stroke-width="2" shape-rendering="crispEdges"/>
<text x="703.3" y="51.5" letter-spacing="1.15">M<tspan dx="1.8">365L3-C1</tspan></text>
<path d="M672 62H683M696 62H701" stroke="#8080ff" stroke-width="2" shape-rendering="crispEdges"/>
<text x="703.3" y="66.5" letter-spacing="1.15">M<tspan dx="1.8">365LP1-C1</tspan></text>
<path d="M672 78H701" stroke="#400040" stroke-width="2" shape-rendering="crispEdges"/>
<text x="703.3" y="82.5" letter-spacing="1.15">M<tspan dx="1.8">385L2-C1</tspan></text>
<path d="M672 93H701" stroke="#ff00dc" stroke-width="2" shape-rendering="crispEdges"/>
<text x="703.3" y="97.5" letter-spacing="1.15">M<tspan dx="1.8">385L3-C1</tspan></text>
<path d="M672 108H683M696 108H701" stroke="#ff40ff" stroke-width="2" shape-rendering="crispEdges"/>
<text x="703.3" y="112.5" letter-spacing="1.15">M<tspan dx="1.8">385LP1-C1</tspan></text>
<path d="M672 124H701" stroke="#3c0078" stroke-width="2" shape-rendering="crispEdges"/>
<text x="703.3" y="128.5" letter-spacing="1.15">M<tspan dx="1.8">405L4-C1</tspan></text>
<path d="M672 139H701" stroke="#a040ff" stroke-width="2" shape-rendering="crispEdges"/>
<text x="703.3" y="143.5" letter-spacing="1.15">M<tspan dx="1.8">405LP1-C1</tspan></text>
<path d="M672 155H701" stroke="#4040f0" stroke-width="2" shape-rendering="crispEdges"/>
<text x="703.3" y="159.5" letter-spacing="1.15">M<tspan dx="1.8">455L4-C1</tspan></text>
<path d="M672 170H701" stroke="#60c8f8" stroke-width="2" shape-rendering="crispEdges"/>
<text x="703.3" y="174.5" letter-spacing="1.15">M<tspan dx="1.8">470L5-C1</tspan></text>
<path d="M672 185H701" stroke="#008000" stroke-width="2" shape-rendering="crispEdges"/>
<text x="703.3" y="189.5" letter-spacing="1.15">M<tspan dx="1.8">530L4-C1</tspan></text>
<path d="M672 201H701" stroke="#ffb030" stroke-width="2" shape-rendering="crispEdges"/>
<text x="703.3" y="205.5" letter-spacing="1.15">M<tspan dx="1.8">590L4-C1</tspan></text>
<path d="M672 216H701" stroke="#ff8000" stroke-width="2" shape-rendering="crispEdges"/>
<text x="703.3" y="220.5" letter-spacing="1.15">M<tspan dx="1.8">617L5-C1</tspan></text>
<path d="M672 231H701" stroke="#ff0000" stroke-width="2" shape-rendering="crispEdges"/>
<text x="703.3" y="235.5" letter-spacing="1.15">M<tspan dx="1.8">625L4-C1</tspan></text>
<path d="M672 247H701" stroke="#e60008" stroke-width="2" shape-rendering="crispEdges"/>
<text x="703.3" y="251.5" letter-spacing="1.15">M<tspan dx="1.8">660L4-C1</tspan></text>
<path d="M672 262H701" stroke="#9c2040" stroke-width="2" shape-rendering="crispEdges"/>
<text x="703.3" y="266.5" letter-spacing="1.15">M<tspan dx="1.8">780L3-C1</tspan></text>
<path d="M672 278H701" stroke="#ff7070" stroke-width="2" shape-rendering="crispEdges"/>
<text x="703.3" y="282.5" letter-spacing="1.15">M<tspan dx="1.8">850L3-C1</tspan></text>
<path d="M672 293H701" stroke="#ff80ff" stroke-width="2" shape-rendering="crispEdges"/>
<text x="703.3" y="297.5" letter-spacing="1.15">M<tspan dx="1.8">940L3-C1</tspan></text>
<path d="M672 308H701" stroke="#80b0ff" stroke-width="2" shape-rendering="crispEdges"/>
<text x="703.3" y="312.5" letter-spacing="1.15">M<tspan dx="1.8">CWHL8-C1</tspan></text>
</g>
</svg></body></html>
